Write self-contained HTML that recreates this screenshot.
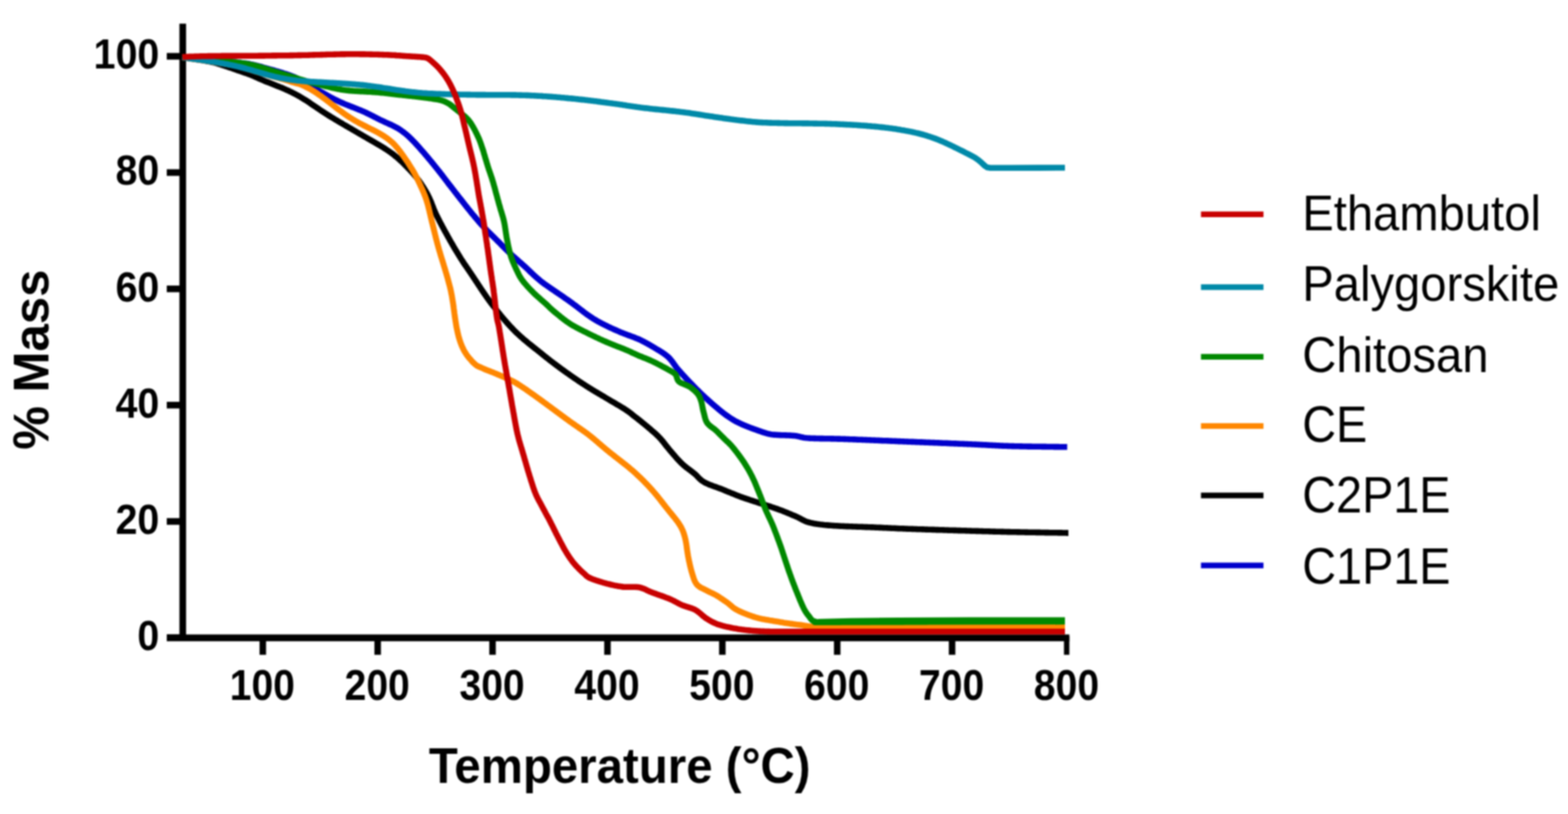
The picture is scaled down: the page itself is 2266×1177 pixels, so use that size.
<!DOCTYPE html>
<html lang="en"><head><meta charset="utf-8"><title>TGA % Mass vs Temperature</title>
<style>
html,body{margin:0;padding:0;background:#fff;}
body{width:2266px;height:1177px;overflow:hidden;}
svg{display:block;filter:blur(1.1px);}
text{font-family:"Liberation Sans",Arial,Helvetica,sans-serif;fill:#000;}
.tick{font-weight:bold;font-size:62px;}
.title{font-weight:bold;font-size:72.6px;}
.leg{font-size:73px;}
.c{fill:none;stroke-linejoin:round;stroke-linecap:butt;}
</style></head><body>
<svg width="2266" height="1177" viewBox="0 0 2266 1177">
<rect x="0" y="0" width="2266" height="1177" fill="#ffffff"/>
<g fill="#000">
<rect x="259.3" y="34.2" width="9.6" height="892.7"/>
<rect x="241" y="917.4" width="1304.4" height="9.8"/>
<rect x="241" y="917.3" width="20" height="9.6"/>
<rect x="241" y="749.2" width="20" height="9.6"/>
<rect x="241" y="581.0" width="20" height="9.6"/>
<rect x="241" y="412.9" width="20" height="9.6"/>
<rect x="241" y="244.7" width="20" height="9.6"/>
<rect x="241" y="76.6" width="20" height="9.6"/>
<rect x="375.1" y="920" width="9.4" height="26.8"/>
<rect x="541.1" y="920" width="9.4" height="26.8"/>
<rect x="707.1" y="920" width="9.4" height="26.8"/>
<rect x="873.2" y="920" width="9.4" height="26.8"/>
<rect x="1039.2" y="920" width="9.4" height="26.8"/>
<rect x="1205.2" y="920" width="9.4" height="26.8"/>
<rect x="1371.2" y="920" width="9.4" height="26.8"/>
<rect x="1537.6" y="920" width="7.8" height="26.8"/>
</g>
<path class="c" d="M263.5,82.8L264.6,82.9L265.8,83.0L267.3,83.2L268.9,83.4L270.7,83.5L272.6,83.7L274.5,83.9L276.6,84.2L278.8,84.4L281.0,84.6L283.2,84.8L285.5,85.1L287.7,85.3L289.9,85.5L292.1,85.7L294.2,85.9L296.2,86.1L298.2,86.3L300.0,86.5L302.1,86.7L304.1,86.9L306.0,87.0L307.9,87.2L309.8,87.3L311.7,87.5L313.5,87.6L315.3,87.8L317.2,87.9L319.0,88.0L320.8,88.2L322.6,88.3L324.4,88.5L326.2,88.6L328.1,88.8L330.0,89.0L331.9,89.2L333.8,89.4L335.8,89.6L337.7,89.7L339.6,89.9L341.6,90.1L343.5,90.3L345.5,90.5L347.4,90.7L349.4,91.0L351.3,91.2L353.3,91.5L355.2,91.7L357.1,92.0L359.1,92.3L361.0,92.7L362.9,93.1L364.9,93.5L366.9,93.9L368.9,94.4L370.9,94.9L373.0,95.4L375.0,96.0L377.0,96.5L378.9,97.0L380.9,97.6L382.8,98.1L384.6,98.6L386.4,99.1L388.2,99.6L389.8,100.1L391.4,100.5L393.8,101.1L395.9,101.7L397.9,102.3L399.8,102.8L401.6,103.4L403.3,103.9L404.9,104.4L406.6,104.9L408.3,105.4L410.0,106.0L411.9,106.6L413.8,107.2L415.7,107.8L417.5,108.4L419.3,109.0L421.2,109.7L423.0,110.4L424.9,111.2L426.8,112.0L428.4,112.8L430.0,113.6L431.7,114.5L433.4,115.4L435.0,116.4L436.7,117.3L438.3,118.2L439.9,119.1L441.6,120.0L443.2,121.0L444.8,121.9L446.5,122.8L448.1,123.7L449.7,124.6L451.4,125.6L453.0,126.5L454.6,127.5L456.3,128.4L458.0,129.4L459.7,130.4L461.4,131.4L463.1,132.4L464.8,133.4L466.5,134.3L468.2,135.3L470.0,136.3L471.8,137.3L473.5,138.3L475.3,139.3L477.1,140.3L479.0,141.3L480.8,142.2L482.6,143.2L484.4,144.1L486.3,145.0L488.1,145.9L490.0,146.8L491.9,147.6L493.8,148.5L495.6,149.3L497.5,150.1L499.4,150.9L501.2,151.6L503.1,152.4L505.0,153.1L506.8,153.9L508.7,154.6L510.5,155.3L512.4,156.0L514.2,156.7L516.0,157.4L517.8,158.2L519.6,158.9L521.4,159.6L523.1,160.4L524.9,161.1L526.6,161.9L528.3,162.7L530.0,163.5L531.7,164.3L533.4,165.1L535.1,166.0L536.8,166.8L538.4,167.7L540.1,168.5L541.7,169.4L543.4,170.2L545.0,171.1L546.7,171.9L548.4,172.8L550.1,173.6L551.8,174.4L553.5,175.2L555.3,176.0L557.0,176.8L558.8,177.6L560.5,178.4L562.3,179.2L564.1,180.0L565.9,180.8L567.6,181.7L569.4,182.6L571.1,183.5L572.8,184.4L574.5,185.3L576.2,186.3L577.8,187.4L579.4,188.4L581.0,189.6L582.5,190.7L584.0,191.8L585.5,193.0L587.0,194.2L588.4,195.4L589.8,196.7L591.2,198.0L592.5,199.2L593.9,200.6L595.2,201.9L596.5,203.2L597.9,204.6L599.1,205.9L600.4,207.3L601.7,208.7L603.0,210.1L604.2,211.5L605.5,212.9L606.7,214.3L607.9,215.7L609.1,217.1L610.4,218.5L611.6,219.9L612.8,221.2L613.9,222.6L615.1,224.0L616.3,225.4L617.5,226.8L618.6,228.1L619.7,229.5L620.9,230.8L622.0,232.2L623.1,233.5L624.2,234.9L625.3,236.2L626.4,237.5L627.4,238.8L628.5,240.2L629.6,241.5L630.6,242.8L631.7,244.2L632.7,245.5L633.8,246.8L634.8,248.1L635.9,249.4L636.9,250.8L638.0,252.1L639.0,253.5L640.1,254.9L641.2,256.3L642.3,257.8L643.4,259.2L644.5,260.7L645.6,262.1L646.8,263.6L647.9,265.2L649.1,266.7L650.3,268.2L651.5,269.8L652.7,271.3L653.9,272.9L655.1,274.4L656.3,276.0L657.5,277.6L658.7,279.1L660.0,280.7L661.2,282.3L662.4,283.9L663.7,285.5L664.9,287.1L666.2,288.6L667.4,290.2L668.7,291.8L669.9,293.4L671.2,295.0L672.4,296.6L673.7,298.2L675.0,299.8L676.2,301.4L677.5,303.0L678.8,304.5L680.0,306.1L681.3,307.7L682.5,309.2L683.8,310.7L685.1,312.2L686.3,313.8L687.6,315.2L688.9,316.7L690.1,318.2L691.4,319.7L692.6,321.2L693.9,322.6L695.2,324.1L696.4,325.5L697.7,326.8L698.9,328.2L700.2,329.5L701.6,330.9L702.9,332.3L704.3,333.7L705.6,335.1L707.0,336.4L708.4,337.8L709.7,339.1L711.1,340.5L712.5,341.8L713.8,343.1L715.2,344.5L716.5,345.8L717.9,347.2L719.3,348.6L720.6,349.9L722.0,351.3L723.4,352.7L724.7,354.1L726.1,355.5L727.4,356.9L728.8,358.2L730.1,359.6L731.5,360.9L732.9,362.3L734.2,363.6L735.6,364.9L737.0,366.3L738.5,367.6L739.8,368.8L741.2,370.1L742.5,371.3L743.9,372.5L745.3,373.8L746.8,375.0L748.3,376.4L749.8,377.8L751.5,379.2L753.3,380.8L754.5,381.9L755.9,383.1L757.2,384.3L758.6,385.5L760.0,386.8L761.5,388.2L763.0,389.7L764.5,391.1L766.0,392.6L767.5,394.1L769.1,395.5L770.6,397.0L772.2,398.4L773.7,399.8L775.3,401.2L776.8,402.5L778.3,403.8L779.8,405.1L781.5,406.5L783.1,407.8L784.8,409.0L786.4,410.2L788.1,411.4L789.7,412.5L791.4,413.7L793.0,414.9L794.7,416.0L796.3,417.2L798.0,418.3L799.6,419.4L801.3,420.5L802.9,421.7L804.6,422.8L806.2,423.9L807.8,425.0L809.5,426.1L811.1,427.2L812.7,428.3L814.3,429.4L815.9,430.6L817.5,431.7L819.1,432.8L820.7,433.9L822.3,435.0L823.9,436.2L825.4,437.3L827.0,438.4L828.5,439.6L830.0,440.7L831.5,441.8L833.1,443.0L834.6,444.1L836.1,445.3L837.5,446.4L839.0,447.6L840.5,448.7L842.0,449.9L843.4,451.0L844.9,452.1L846.4,453.2L847.8,454.3L849.3,455.3L850.8,456.4L852.3,457.4L853.8,458.4L855.3,459.4L856.8,460.4L858.4,461.4L860.0,462.3L861.5,463.2L863.1,464.2L864.8,465.1L866.4,466.0L868.1,466.9L869.8,467.8L871.5,468.6L873.2,469.5L874.9,470.4L876.6,471.2L878.4,472.1L880.1,472.9L881.9,473.8L883.7,474.6L885.5,475.4L887.3,476.2L889.1,477.0L890.9,477.8L892.8,478.6L894.6,479.4L896.4,480.2L898.2,480.9L900.0,481.6L901.8,482.4L903.6,483.0L905.5,483.7L907.3,484.4L909.2,485.1L911.0,485.8L912.8,486.5L914.6,487.1L916.4,487.8L918.1,488.5L919.8,489.2L921.4,489.8L923.0,490.5L924.9,491.3L926.6,492.2L928.4,493.1L930.0,493.9L931.7,494.8L933.3,495.6L934.8,496.5L936.4,497.3L937.9,498.2L939.5,499.1L941.0,500.0L942.6,500.9L944.2,501.9L945.9,502.9L947.5,503.9L949.2,504.9L951.0,505.9L952.7,507.0L954.4,508.0L956.1,509.1L957.8,510.2L959.4,511.3L961.0,512.5L962.5,513.6L964.0,514.8L965.4,516.0L966.8,517.3L968.1,518.7L969.3,520.1L970.5,521.6L971.6,523.0L972.7,524.5L973.7,526.0L974.8,527.5L975.9,529.1L977.0,530.6L978.2,532.1L979.5,533.7L980.6,535.0L981.8,536.4L983.0,537.8L984.3,539.2L985.6,540.6L986.8,542.0L988.1,543.4L989.4,544.8L990.7,546.2L992.0,547.6L993.3,549.0L994.6,550.4L995.9,551.8L997.2,553.1L998.6,554.5L999.9,555.9L1001.3,557.3L1002.6,558.7L1004.0,560.1L1005.4,561.5L1006.7,562.9L1008.1,564.2L1009.5,565.5L1010.8,566.9L1012.2,568.2L1013.5,569.5L1014.9,570.8L1016.4,572.2L1017.9,573.6L1019.3,574.9L1020.8,576.3L1022.3,577.6L1023.8,579.0L1025.2,580.3L1026.7,581.6L1028.2,582.9L1029.7,584.2L1031.1,585.4L1032.6,586.7L1034.1,588.0L1035.5,589.2L1037.0,590.4L1038.5,591.7L1039.9,592.9L1041.4,594.1L1042.9,595.3L1044.3,596.4L1045.8,597.6L1047.3,598.7L1048.7,599.8L1050.2,600.8L1051.8,601.9L1053.3,603.0L1054.8,604.0L1056.3,605.0L1057.7,605.9L1059.2,606.8L1060.8,607.8L1062.4,608.7L1064.1,609.6L1066.0,610.5L1067.9,611.5L1069.4,612.2L1071.0,613.0L1072.7,613.7L1074.5,614.5L1076.3,615.2L1078.1,616.0L1080.0,616.7L1081.9,617.5L1083.8,618.2L1085.6,618.9L1087.5,619.6L1089.3,620.3L1091.1,620.9L1092.8,621.5L1094.4,622.1L1096.3,622.8L1098.1,623.4L1099.8,624.0L1101.5,624.6L1103.1,625.2L1104.7,625.7L1106.3,626.2L1107.9,626.6L1109.7,627.1L1111.5,627.5L1113.5,627.9L1115.6,628.2L1117.3,628.4L1119.2,628.6L1121.1,628.8L1123.1,628.9L1125.1,629.0L1127.2,629.1L1129.4,629.2L1131.5,629.3L1133.7,629.3L1135.8,629.4L1138.0,629.5L1140.0,629.5L1142.0,629.6L1144.0,629.7L1145.8,629.9L1147.5,630.0L1149.7,630.3L1151.6,630.6L1153.3,630.9L1154.8,631.2L1156.3,631.6L1157.8,632.0L1159.4,632.3L1161.2,632.7L1163.3,633.0L1165.8,633.3L1168.7,633.5L1170.1,633.6L1171.6,633.7L1173.1,633.8L1174.7,633.8L1176.3,633.9L1178.0,633.9L1179.7,634.0L1181.4,634.0L1183.2,634.0L1185.1,634.1L1187.0,634.1L1188.9,634.1L1190.9,634.2L1192.9,634.2L1195.0,634.2L1197.1,634.3L1199.2,634.3L1201.4,634.4L1203.7,634.4L1206.0,634.5L1208.3,634.5L1210.7,634.6L1213.2,634.6L1215.7,634.7L1218.2,634.8L1219.8,634.9L1221.4,634.9L1223.1,635.0L1224.7,635.0L1226.4,635.1L1228.1,635.2L1229.8,635.2L1231.6,635.3L1233.3,635.4L1235.1,635.4L1236.9,635.5L1238.7,635.6L1240.5,635.7L1242.4,635.7L1244.2,635.8L1246.1,635.9L1248.0,636.0L1249.9,636.0L1251.8,636.1L1253.8,636.2L1255.8,636.3L1257.8,636.4L1259.8,636.5L1261.8,636.5L1263.8,636.6L1265.9,636.7L1268.0,636.8L1270.1,636.9L1272.2,637.0L1274.3,637.1L1276.5,637.2L1278.7,637.2L1280.8,637.3L1283.1,637.4L1285.3,637.5L1287.5,637.6L1289.8,637.7L1292.1,637.8L1294.4,637.9L1296.7,638.0L1298.4,638.1L1300.2,638.1L1302.0,638.2L1303.9,638.3L1305.8,638.4L1307.7,638.5L1309.6,638.5L1311.6,638.6L1313.5,638.7L1315.5,638.8L1317.6,638.9L1319.6,638.9L1321.7,639.0L1323.8,639.1L1325.9,639.2L1328.0,639.3L1330.2,639.4L1332.3,639.4L1334.5,639.5L1336.6,639.6L1338.8,639.7L1341.0,639.8L1343.1,639.9L1345.3,640.0L1347.5,640.0L1349.7,640.1L1351.9,640.2L1354.0,640.3L1356.2,640.4L1358.4,640.5L1360.5,640.6L1362.7,640.7L1364.8,640.8L1366.9,640.8L1369.0,640.9L1371.2,641.0L1373.2,641.1L1375.3,641.2L1377.3,641.3L1379.3,641.4L1381.3,641.4L1383.3,641.5L1385.2,641.6L1387.2,641.7L1389.1,641.8L1390.9,641.8L1392.7,641.9L1394.5,642.0L1396.3,642.0L1398.0,642.1L1399.7,642.2L1401.3,642.3L1402.9,642.3L1404.5,642.4L1407.2,642.5L1409.8,642.6L1412.2,642.8L1414.6,642.9L1416.8,643.0L1419.0,643.1L1421.1,643.2L1423.0,643.3L1425.0,643.4L1426.8,643.5L1428.6,643.6L1430.4,643.7L1432.1,643.8L1433.8,643.9L1435.4,644.0L1437.1,644.0L1438.7,644.1L1440.3,644.2L1442.0,644.3L1443.6,644.4L1445.3,644.5L1447.0,644.5L1448.8,644.6L1450.6,644.7L1452.4,644.8L1454.3,644.8L1456.3,644.9L1458.4,645.0L1460.5,645.0L1462.8,645.1L1464.6,645.1L1466.4,645.2L1468.3,645.2L1470.2,645.3L1472.3,645.3L1474.3,645.4L1476.5,645.4L1478.6,645.5L1480.8,645.5L1483.0,645.5L1485.3,645.6L1487.6,645.6L1489.9,645.6L1492.2,645.7L1494.5,645.7L1496.9,645.8L1499.2,645.8L1501.6,645.8L1503.9,645.8L1506.2,645.9L1508.5,645.9L1510.8,645.9L1513.0,646.0L1515.2,646.0L1517.4,646.0L1519.5,646.0L1521.6,646.0L1523.6,646.1L1525.6,646.1L1527.5,646.1L1529.4,646.1L1531.2,646.2L1532.8,646.2L1534.5,646.2L1536.0,646.2L1537.5,646.2L1538.8,646.2L1540.1,646.3L1541.2,646.3L1542.3,646.3" stroke="#0000cc" stroke-width="8.6"/>
<path class="c" d="M263.5,82.8L264.6,83.0L265.9,83.2L267.4,83.4L269.1,83.7L271.0,83.9L273.0,84.2L275.1,84.5L277.3,84.9L279.6,85.2L281.8,85.6L284.1,85.9L286.4,86.3L288.7,86.6L290.9,87.0L293.0,87.3L294.9,87.6L296.8,87.9L298.5,88.2L300.0,88.5L302.6,89.0L304.6,89.4L306.3,89.7L307.6,90.0L308.9,90.3L310.4,90.7L312.0,91.2L314.2,91.8L316.9,92.7L318.3,93.1L319.8,93.6L321.4,94.1L323.1,94.7L324.8,95.3L326.7,95.9L328.6,96.5L330.5,97.2L332.5,97.9L334.5,98.5L336.6,99.2L338.6,100.0L340.7,100.7L342.7,101.4L344.7,102.1L346.7,102.8L348.7,103.5L350.6,104.1L352.5,104.8L354.3,105.4L356.0,106.0L358.1,106.7L360.1,107.5L362.1,108.2L364.1,109.0L366.0,109.8L367.9,110.7L369.8,111.5L371.6,112.3L373.5,113.2L375.3,114.0L377.2,114.8L379.0,115.6L380.9,116.4L382.7,117.2L384.5,117.9L386.4,118.6L388.2,119.3L390.0,120.0L391.9,120.8L393.7,121.5L395.5,122.2L397.3,122.9L399.1,123.7L400.9,124.4L402.8,125.1L404.6,125.9L406.4,126.6L408.1,127.3L409.9,128.1L411.7,128.9L413.4,129.7L415.2,130.4L416.9,131.2L418.7,132.1L420.4,132.9L422.1,133.7L423.8,134.6L425.5,135.4L427.1,136.3L428.8,137.2L430.4,138.1L432.1,139.0L433.6,139.9L435.2,140.9L436.8,141.8L438.4,142.8L439.9,143.8L441.5,144.7L443.0,145.7L444.6,146.7L446.1,147.7L447.6,148.7L449.1,149.8L450.6,150.8L452.1,151.8L453.6,152.8L455.1,153.8L456.6,154.9L458.1,155.9L459.6,156.9L461.1,157.9L462.6,159.0L464.1,160.0L465.7,161.0L467.2,162.0L468.8,163.0L470.3,164.0L471.9,165.0L473.4,166.0L475.0,167.0L476.6,168.0L478.2,169.0L479.8,169.9L481.4,170.9L483.0,171.9L484.6,172.9L486.2,173.8L487.9,174.8L489.5,175.8L491.1,176.7L492.8,177.7L494.4,178.6L496.0,179.6L497.7,180.6L499.3,181.5L500.9,182.5L502.6,183.4L504.2,184.4L505.8,185.3L507.5,186.3L509.1,187.2L510.8,188.2L512.4,189.2L514.0,190.1L515.7,191.1L517.3,192.0L519.0,193.0L520.6,193.9L522.2,194.9L523.9,195.8L525.5,196.8L527.2,197.8L528.9,198.7L530.5,199.7L532.2,200.6L533.8,201.6L535.5,202.5L537.1,203.5L538.8,204.4L540.4,205.4L542.1,206.3L543.7,207.3L545.3,208.2L547.0,209.2L548.6,210.1L550.2,211.1L551.8,212.1L553.4,213.0L554.9,214.0L556.5,215.0L558.0,216.0L559.5,217.0L561.0,218.0L562.5,219.0L564.0,220.1L565.4,221.1L566.8,222.2L568.3,223.2L569.7,224.3L571.0,225.5L572.4,226.6L573.8,227.7L575.1,228.9L576.5,230.1L577.8,231.3L579.1,232.5L580.4,233.7L581.7,234.9L583.0,236.2L584.3,237.5L585.5,238.8L586.8,240.1L588.1,241.3L589.4,242.7L590.6,244.0L591.9,245.3L593.1,246.7L594.4,248.0L595.7,249.4L596.9,250.8L598.2,252.3L599.4,253.8L600.7,255.3L602.0,256.9L603.2,258.4L604.5,260.1L605.7,261.7L606.9,263.4L608.0,265.1L609.2,266.8L610.3,268.5L611.4,270.2L612.5,271.9L613.5,273.6L614.5,275.2L615.5,276.9L616.5,278.6L617.4,280.3L618.3,282.0L619.2,283.8L620.0,285.4L620.8,287.1L621.5,288.8L622.3,290.5L623.1,292.3L623.7,293.9L624.2,295.3L624.8,296.8L625.5,298.6L626.2,300.4L626.9,302.3L627.7,304.3L628.6,306.3L629.5,308.3L630.2,309.9L631.0,311.5L631.8,313.1L632.7,314.8L633.6,316.6L634.5,318.3L635.4,320.1L636.4,322.0L637.4,323.8L638.3,325.7L639.3,327.5L640.3,329.4L641.3,331.2L642.3,333.1L643.3,334.9L644.3,336.7L645.3,338.5L646.3,340.2L647.2,341.9L648.2,343.7L649.2,345.4L650.1,347.2L651.1,348.9L652.1,350.6L653.1,352.3L654.1,354.0L655.1,355.7L656.0,357.4L657.0,359.1L658.0,360.7L659.0,362.4L660.0,364.0L661.0,365.6L662.0,367.2L662.9,368.8L663.9,370.4L664.9,372.0L666.0,373.8L667.1,375.5L668.2,377.2L669.3,378.9L670.4,380.6L671.5,382.2L672.6,383.8L673.8,385.5L674.9,387.1L676.0,388.7L677.1,390.3L678.2,392.0L679.3,393.6L680.4,395.2L681.5,396.9L682.6,398.5L683.7,400.2L684.8,401.8L685.9,403.5L687.0,405.2L688.1,406.8L689.2,408.5L690.3,410.2L691.4,411.9L692.5,413.5L693.6,415.2L694.7,416.9L695.8,418.5L696.9,420.1L698.0,421.8L699.1,423.4L700.2,425.0L701.3,426.6L702.5,428.3L703.6,430.0L704.8,431.6L706.0,433.3L707.2,434.9L708.3,436.5L709.4,438.0L710.6,439.5L711.7,440.9L712.8,442.4L714.0,443.8L715.1,445.3L716.2,446.8L717.4,448.2L718.5,449.6L719.7,451.1L720.8,452.5L722.0,453.9L723.1,455.4L724.3,456.8L725.5,458.2L726.7,459.6L727.9,461.1L729.1,462.5L730.3,463.9L731.6,465.4L732.8,466.8L734.1,468.2L735.4,469.6L736.7,471.1L738.0,472.5L739.4,473.9L740.7,475.4L742.1,476.8L743.5,478.2L744.9,479.6L746.3,481.0L747.8,482.4L749.2,483.7L750.7,485.1L752.2,486.4L753.7,487.7L755.2,489.1L756.7,490.4L758.2,491.7L759.7,492.9L761.3,494.2L762.8,495.5L764.4,496.8L765.9,498.0L767.5,499.2L769.0,500.5L770.6,501.7L772.1,503.0L773.7,504.2L775.2,505.4L776.8,506.6L778.3,507.8L779.8,509.0L781.2,510.2L782.7,511.4L784.2,512.6L785.7,513.8L787.2,515.0L788.6,516.2L790.1,517.3L791.6,518.5L793.1,519.7L794.5,520.8L796.0,522.0L797.5,523.1L799.1,524.3L800.6,525.5L802.2,526.6L803.7,527.8L805.3,529.0L806.9,530.1L808.4,531.3L810.0,532.5L811.5,533.6L813.1,534.7L814.6,535.9L816.2,537.0L817.8,538.1L819.3,539.2L820.9,540.3L822.4,541.4L824.0,542.5L825.7,543.7L827.3,544.8L829.0,546.0L830.6,547.1L832.3,548.2L833.9,549.3L835.6,550.5L837.2,551.6L838.9,552.7L840.6,553.8L842.2,554.9L843.9,555.9L845.5,557.0L847.2,558.1L848.8,559.1L850.5,560.2L852.2,561.2L853.8,562.3L855.5,563.3L857.1,564.3L858.8,565.3L860.4,566.3L862.1,567.3L863.8,568.3L865.4,569.2L867.1,570.2L868.7,571.2L870.4,572.2L872.0,573.1L873.7,574.1L875.3,575.1L877.0,576.1L878.7,577.1L880.4,578.1L882.1,579.2L883.9,580.2L885.7,581.2L887.5,582.3L889.3,583.3L891.0,584.4L892.8,585.4L894.5,586.4L896.1,587.4L897.7,588.4L899.3,589.4L900.8,590.3L902.2,591.1L903.5,592.0L905.6,593.4L907.4,594.6L909.0,595.8L910.5,596.9L911.8,597.9L913.2,599.0L914.5,600.1L916.0,601.3L917.7,602.6L919.0,603.6L920.4,604.7L921.9,605.9L923.3,607.0L924.8,608.2L926.3,609.4L927.8,610.6L929.3,611.8L930.8,613.0L932.3,614.3L933.8,615.5L935.3,616.8L936.8,618.1L938.3,619.3L939.8,620.6L941.3,621.9L942.8,623.2L944.3,624.5L945.8,625.8L947.3,627.1L948.8,628.5L950.2,629.9L951.6,631.3L953.0,632.7L954.4,634.1L955.6,635.6L956.9,637.1L958.2,638.6L959.4,640.2L960.6,641.7L961.8,643.3L963.0,644.9L964.3,646.4L965.6,648.0L966.9,649.6L968.2,651.2L969.4,652.6L970.6,654.0L971.8,655.4L973.0,656.9L974.3,658.3L975.6,659.8L976.8,661.2L978.1,662.7L979.4,664.1L980.7,665.5L982.0,666.9L983.3,668.2L984.5,669.5L985.8,670.7L987.3,672.1L988.8,673.4L990.3,674.6L991.8,675.9L993.4,677.0L994.9,678.2L996.4,679.3L997.9,680.4L999.3,681.5L1000.8,682.6L1002.1,683.7L1003.5,684.8L1005.0,686.1L1006.4,687.4L1007.6,688.7L1008.8,690.0L1010.0,691.2L1011.3,692.5L1012.6,693.7L1014.1,694.9L1015.8,696.0L1017.7,697.2L1019.1,698.0L1020.6,698.7L1022.2,699.4L1023.9,700.2L1025.6,700.9L1027.4,701.6L1029.2,702.3L1031.1,703.0L1033.0,703.6L1034.9,704.3L1036.8,705.0L1038.7,705.7L1040.6,706.4L1042.4,707.1L1044.2,707.8L1046.0,708.5L1047.7,709.2L1049.5,710.0L1051.3,710.7L1053.0,711.4L1054.8,712.1L1056.6,712.9L1058.3,713.6L1060.1,714.3L1061.9,715.0L1063.6,715.7L1065.4,716.4L1067.2,717.1L1068.9,717.7L1070.7,718.4L1072.6,719.1L1074.5,719.8L1076.4,720.4L1078.3,721.1L1080.2,721.7L1082.1,722.3L1084.0,723.0L1085.8,723.6L1087.7,724.2L1089.6,724.8L1091.5,725.4L1093.4,726.0L1095.3,726.7L1097.2,727.3L1099.1,727.9L1101.0,728.5L1102.9,729.2L1104.8,729.8L1106.7,730.4L1108.6,731.0L1110.5,731.6L1112.3,732.2L1114.2,732.8L1116.1,733.5L1118.0,734.1L1119.9,734.8L1121.8,735.4L1123.7,736.1L1125.5,736.8L1127.3,737.4L1129.1,738.1L1131.0,738.8L1132.8,739.6L1134.6,740.3L1136.5,741.0L1138.3,741.8L1140.1,742.5L1141.9,743.2L1143.6,744.0L1145.3,744.7L1147.0,745.4L1148.6,746.0L1150.2,746.7L1152.2,747.6L1154.0,748.5L1155.6,749.4L1157.2,750.2L1158.7,751.1L1160.3,751.9L1161.9,752.7L1163.5,753.5L1165.4,754.2L1167.4,754.9L1169.7,755.5L1171.3,755.9L1172.8,756.2L1174.4,756.6L1176.0,756.9L1177.7,757.2L1179.4,757.5L1181.1,757.8L1182.9,758.0L1184.8,758.3L1186.8,758.5L1188.8,758.7L1190.9,759.0L1193.2,759.2L1195.5,759.4L1198.0,759.6L1200.6,759.8L1203.3,760.0L1204.9,760.1L1206.5,760.2L1208.2,760.3L1209.9,760.4L1211.7,760.5L1213.6,760.6L1215.5,760.7L1217.4,760.8L1219.3,760.9L1221.3,761.0L1223.4,761.1L1225.4,761.1L1227.5,761.2L1229.6,761.3L1231.7,761.4L1233.8,761.5L1236.0,761.5L1238.1,761.6L1240.3,761.7L1242.4,761.8L1244.6,761.8L1246.7,761.9L1248.8,762.0L1250.9,762.1L1253.0,762.1L1255.1,762.2L1257.2,762.3L1259.2,762.4L1261.2,762.4L1263.2,762.5L1265.1,762.6L1267.1,762.7L1269.0,762.8L1270.8,762.9L1272.6,762.9L1274.3,763.0L1276.0,763.1L1277.7,763.2L1279.2,763.2L1280.8,763.3L1282.4,763.4L1284.0,763.5L1285.5,763.5L1287.1,763.6L1288.7,763.7L1290.4,763.8L1292.1,763.8L1293.8,763.9L1295.6,764.0L1297.4,764.1L1299.4,764.2L1301.4,764.2L1303.5,764.3L1305.7,764.4L1308.1,764.5L1310.5,764.6L1313.1,764.7L1315.8,764.8L1318.7,764.9L1321.7,765.0L1323.2,765.0L1324.7,765.1L1326.2,765.2L1327.8,765.2L1329.5,765.3L1331.1,765.3L1332.8,765.4L1334.5,765.4L1336.3,765.5L1338.1,765.6L1339.9,765.6L1341.8,765.7L1343.6,765.7L1345.5,765.8L1347.5,765.9L1349.4,765.9L1351.4,766.0L1353.4,766.1L1355.4,766.1L1357.4,766.2L1359.5,766.3L1361.5,766.3L1363.6,766.4L1365.7,766.5L1367.8,766.5L1370.0,766.6L1372.1,766.7L1374.3,766.7L1376.4,766.8L1378.6,766.9L1380.8,766.9L1382.9,767.0L1385.1,767.1L1387.3,767.1L1389.5,767.2L1391.7,767.3L1393.9,767.3L1396.0,767.4L1398.2,767.5L1400.4,767.5L1402.6,767.6L1404.8,767.7L1406.9,767.7L1409.1,767.8L1411.2,767.9L1413.3,767.9L1415.5,768.0L1417.6,768.0L1419.7,768.1L1421.8,768.2L1423.8,768.2L1425.9,768.3L1427.9,768.3L1429.9,768.4L1431.9,768.5L1433.8,768.5L1435.8,768.6L1437.7,768.6L1439.6,768.7L1441.5,768.7L1443.3,768.8L1445.1,768.8L1447.3,768.9L1449.6,768.9L1451.8,769.0L1454.1,769.0L1456.4,769.1L1458.7,769.1L1461.0,769.2L1463.4,769.2L1465.7,769.3L1468.0,769.3L1470.4,769.4L1472.7,769.4L1475.0,769.5L1477.4,769.5L1479.7,769.5L1482.0,769.6L1484.3,769.6L1486.6,769.7L1488.9,769.7L1491.2,769.8L1493.4,769.8L1495.7,769.8L1497.9,769.9L1500.1,769.9L1502.3,769.9L1504.4,770.0L1506.5,770.0L1508.6,770.0L1510.7,770.1L1512.7,770.1L1514.7,770.1L1516.7,770.2L1518.6,770.2L1520.5,770.2L1522.4,770.3L1524.2,770.3L1525.9,770.3L1527.7,770.3L1529.3,770.4L1530.9,770.4L1532.5,770.4L1534.0,770.4L1535.5,770.5L1536.9,770.5L1538.2,770.5L1539.5,770.5L1540.7,770.5L1541.9,770.6L1543.0,770.6L1544.0,770.6" stroke="#000000" stroke-width="8.6"/>
<path class="c" d="M263.5,82.8L264.6,83.0L265.9,83.1L267.4,83.3L269.1,83.6L270.9,83.8L272.9,84.1L274.9,84.4L277.1,84.7L279.3,85.0L281.6,85.3L283.9,85.7L286.1,86.0L288.4,86.3L290.6,86.6L292.7,86.9L294.7,87.2L296.6,87.5L298.4,87.8L300.0,88.0L302.5,88.4L304.7,88.7L306.7,89.1L308.6,89.4L310.4,89.7L312.1,90.0L313.7,90.2L315.3,90.5L317.0,90.8L318.8,91.2L320.7,91.5L322.5,91.8L324.3,92.1L326.1,92.4L327.8,92.6L329.6,92.9L331.4,93.2L333.3,93.5L335.2,93.9L337.1,94.2L339.1,94.6L341.2,95.1L343.4,95.6L345.1,96.0L346.9,96.5L348.9,97.0L350.8,97.6L352.9,98.2L354.9,98.8L357.0,99.4L359.1,100.0L361.2,100.7L363.2,101.3L365.2,101.9L367.1,102.5L368.9,103.1L370.6,103.6L372.2,104.1L373.7,104.5L376.2,105.2L378.1,105.8L379.8,106.3L381.2,106.7L382.6,107.1L384.0,107.6L385.6,108.0L387.6,108.6L389.1,109.0L390.8,109.5L392.6,110.0L394.4,110.5L396.3,111.0L398.2,111.5L400.1,112.0L402.0,112.5L403.9,113.0L405.7,113.5L407.4,114.0L409.0,114.5L411.0,115.1L412.9,115.6L414.6,116.2L416.3,116.7L417.9,117.2L419.6,117.8L421.3,118.3L423.1,118.9L425.0,119.5L426.6,120.0L428.2,120.4L429.9,120.8L431.5,121.2L433.2,121.7L435.0,122.3L436.8,123.0L438.5,123.8L440.2,124.6L441.8,125.5L443.5,126.3L445.2,127.1L446.9,128.0L448.5,128.9L450.1,129.9L451.7,130.9L453.4,131.8L455.0,132.9L456.6,133.9L458.2,135.0L459.8,136.1L461.3,137.2L462.9,138.3L464.5,139.4L466.0,140.6L467.6,141.7L469.1,142.8L470.7,144.0L472.2,145.1L473.7,146.3L475.2,147.5L476.7,148.6L478.2,149.8L479.7,151.0L481.2,152.2L482.8,153.4L484.3,154.6L485.8,155.8L487.4,157.0L489.0,158.2L490.6,159.4L492.2,160.6L493.9,161.8L495.5,163.0L497.2,164.2L498.9,165.4L500.6,166.6L502.4,167.8L504.1,168.9L505.9,170.1L507.7,171.2L509.5,172.3L511.3,173.4L513.1,174.5L515.0,175.6L516.8,176.6L518.7,177.7L520.5,178.7L522.4,179.6L524.2,180.6L526.1,181.5L527.9,182.4L529.8,183.4L531.6,184.3L533.4,185.2L535.2,186.1L537.0,186.9L538.8,187.8L540.6,188.7L542.3,189.6L544.1,190.6L545.9,191.5L547.6,192.5L549.3,193.5L551.0,194.5L552.7,195.5L554.4,196.5L556.0,197.6L557.6,198.6L559.1,199.7L560.6,200.9L562.1,202.0L563.6,203.2L565.0,204.4L566.3,205.6L567.7,206.8L569.0,208.1L570.2,209.4L571.4,210.7L572.6,212.1L573.8,213.4L574.9,214.8L576.0,216.2L577.1,217.5L578.1,218.9L579.2,220.3L580.2,221.8L581.2,223.2L582.2,224.6L583.2,226.0L584.2,227.4L585.2,228.9L586.2,230.3L587.2,231.8L588.2,233.2L589.2,234.7L590.2,236.2L591.1,237.7L592.1,239.3L593.1,240.8L594.0,242.4L595.0,243.9L596.0,245.5L596.9,247.1L597.9,248.7L598.8,250.3L599.7,252.0L600.6,253.8L601.5,255.5L602.4,257.3L603.3,259.0L604.1,260.8L605.0,262.6L605.8,264.4L606.7,266.2L607.5,268.0L608.3,269.8L609.1,271.5L609.9,273.2L610.7,274.9L611.4,276.7L612.2,278.4L612.9,280.2L613.6,282.0L614.4,283.9L615.1,285.8L615.8,287.9L616.5,290.0L617.0,291.7L617.5,293.4L618.0,295.1L618.5,297.0L619.0,298.8L619.4,300.7L619.9,302.6L620.4,304.5L620.8,306.5L621.3,308.5L621.8,310.5L622.2,312.5L622.7,314.5L623.2,316.6L623.7,318.6L624.2,320.7L624.6,322.4L625.1,324.2L625.5,326.0L626.0,327.8L626.4,329.7L626.9,331.5L627.3,333.4L627.8,335.2L628.2,337.1L628.7,339.0L629.2,340.9L629.6,342.8L630.1,344.7L630.6,346.6L631.1,348.5L631.6,350.4L632.1,352.3L632.6,354.1L633.1,356.0L633.6,357.9L634.2,359.8L634.7,361.7L635.3,363.6L635.9,365.5L636.4,367.5L637.0,369.4L637.6,371.4L638.2,373.3L638.8,375.2L639.4,377.1L640.0,379.0L640.5,380.9L641.1,382.7L641.6,384.5L642.2,386.4L642.8,388.3L643.3,390.1L643.9,392.0L644.4,393.9L645.0,395.7L645.5,397.6L646.1,399.5L646.6,401.3L647.1,403.2L647.6,405.1L648.1,406.9L648.6,408.8L649.1,410.6L649.6,412.5L650.1,414.3L650.5,416.2L651.0,418.0L651.4,419.9L651.8,421.7L652.1,423.5L652.5,425.4L652.9,427.2L653.2,429.1L653.5,430.9L653.8,432.7L654.1,434.6L654.4,436.4L654.7,438.3L655.0,440.2L655.2,442.0L655.5,443.9L655.7,445.8L656.0,447.7L656.2,449.6L656.5,451.4L656.7,453.3L657.0,455.2L657.2,457.1L657.5,459.0L657.8,460.9L658.1,462.9L658.4,464.8L658.7,466.7L659.0,468.6L659.3,470.5L659.6,472.4L660.0,474.3L660.4,476.1L660.8,478.0L661.2,479.9L661.6,481.8L662.1,483.6L662.5,485.5L663.0,487.4L663.5,489.2L664.1,491.0L664.7,492.8L665.3,494.6L665.9,496.3L666.6,498.1L667.3,499.8L668.0,501.5L668.8,503.2L669.6,504.9L670.4,506.5L671.3,508.1L672.3,509.6L673.2,511.2L674.2,512.7L675.3,514.2L676.4,515.7L677.5,517.1L678.7,518.5L680.0,519.8L681.1,521.2L682.3,522.6L683.6,524.0L684.9,525.2L686.3,526.5L687.8,527.7L689.3,528.8L691.1,529.7L692.9,530.5L694.8,531.3L696.6,532.1L698.4,532.9L700.2,533.7L701.9,534.5L703.6,535.1L705.2,535.8L706.9,536.4L708.5,537.0L710.2,537.7L711.9,538.3L713.8,539.1L715.8,539.9L717.9,540.8L719.4,541.5L721.0,542.1L722.6,542.8L724.3,543.6L726.1,544.3L727.9,545.1L729.7,545.9L731.5,546.7L733.4,547.5L735.2,548.4L737.1,549.3L739.0,550.2L740.8,551.1L742.6,552.1L744.4,553.1L746.1,554.0L747.7,555.0L749.4,556.1L751.0,557.1L752.7,558.2L754.3,559.3L756.0,560.4L757.6,561.5L759.3,562.6L761.0,563.8L762.6,565.0L764.3,566.1L765.9,567.3L767.6,568.5L769.2,569.6L770.9,570.8L772.5,571.9L774.0,573.0L775.6,574.1L777.1,575.2L778.7,576.4L780.3,577.5L781.9,578.7L783.4,579.8L785.0,581.0L786.5,582.1L788.1,583.3L789.7,584.4L791.2,585.6L792.8,586.8L794.4,587.9L795.9,589.0L797.5,590.2L799.1,591.4L800.6,592.5L802.2,593.6L803.7,594.8L805.3,596.0L806.9,597.1L808.4,598.3L810.0,599.4L811.5,600.6L813.1,601.7L814.6,602.9L816.2,604.0L817.8,605.2L819.3,606.3L820.9,607.4L822.4,608.6L824.0,609.7L825.5,610.8L827.1,611.9L828.6,613.0L830.2,614.0L831.7,615.1L833.2,616.2L834.8,617.2L836.3,618.3L837.8,619.3L839.4,620.4L840.9,621.5L842.5,622.6L844.1,623.7L845.7,624.9L847.2,626.0L848.9,627.2L850.5,628.5L851.9,629.6L853.3,630.7L854.7,631.8L856.1,633.0L857.5,634.1L858.9,635.3L860.3,636.5L861.7,637.7L863.2,638.9L864.6,640.2L866.0,641.4L867.5,642.6L869.0,643.9L870.5,645.2L872.0,646.5L873.5,647.8L875.0,649.1L876.6,650.4L878.2,651.7L879.8,653.0L881.2,654.2L882.7,655.3L884.2,656.5L885.7,657.7L887.2,658.9L888.8,660.2L890.4,661.4L892.0,662.6L893.6,663.9L895.2,665.1L896.8,666.4L898.4,667.7L900.0,668.9L901.6,670.2L903.2,671.4L904.8,672.7L906.4,674.0L907.9,675.2L909.4,676.4L910.9,677.7L912.3,678.9L913.7,680.1L915.1,681.3L916.7,682.7L918.3,684.2L919.8,685.6L921.3,687.0L922.8,688.4L924.3,689.7L925.7,691.1L927.1,692.5L928.5,693.9L929.9,695.2L931.2,696.6L932.5,698.0L933.9,699.4L935.2,700.7L936.5,702.1L937.8,703.5L939.1,704.9L940.4,706.4L941.7,707.8L943.0,709.2L944.3,710.7L945.6,712.2L946.9,713.7L948.1,715.3L949.4,716.8L950.6,718.3L951.9,719.9L953.1,721.4L954.3,722.9L955.5,724.5L956.7,726.0L957.9,727.5L959.0,729.0L960.2,730.5L961.3,731.9L962.4,733.3L963.5,734.7L964.6,736.1L966.0,737.8L967.3,739.5L968.6,741.1L970.0,742.7L971.3,744.3L972.5,745.9L973.8,747.4L975.0,748.9L976.2,750.4L977.3,751.9L978.4,753.3L979.5,754.8L980.5,756.2L981.4,757.6L982.3,759.0L983.4,760.8L984.4,762.5L985.2,764.2L986.0,765.8L986.7,767.3L987.3,768.9L987.9,770.5L988.4,772.1L988.9,773.9L989.5,775.7L990.0,777.7L990.4,779.4L990.8,781.1L991.1,782.9L991.5,784.8L991.8,786.7L992.1,788.7L992.4,790.7L992.6,792.7L992.9,794.7L993.2,796.7L993.5,798.6L993.8,800.5L994.1,802.4L994.4,804.2L994.8,806.3L995.2,808.3L995.6,810.3L996.0,812.3L996.5,814.3L996.9,816.3L997.3,818.2L997.8,820.1L998.2,821.9L998.7,823.7L999.2,825.5L999.7,827.2L1000.3,829.2L1000.9,831.2L1001.5,833.1L1002.1,835.0L1002.7,836.9L1003.4,838.6L1004.1,840.3L1004.9,841.9L1005.8,843.4L1006.8,844.8L1008.1,846.2L1009.5,847.4L1011.0,848.5L1012.6,849.5L1014.2,850.4L1015.9,851.2L1017.6,852.0L1019.3,852.8L1020.9,853.7L1022.7,854.6L1024.4,855.5L1026.1,856.3L1027.9,857.1L1029.7,858.0L1031.4,858.8L1033.2,859.8L1035.1,860.8L1036.6,861.7L1038.2,862.7L1039.8,863.7L1041.4,864.8L1043.1,865.9L1044.7,867.0L1046.3,868.1L1047.9,869.2L1049.5,870.3L1051.0,871.4L1052.6,872.6L1054.0,873.8L1055.4,874.9L1056.7,876.1L1058.1,877.3L1059.5,878.5L1061.2,879.6L1063.0,880.8L1065.1,882.0L1066.5,882.7L1068.0,883.5L1069.6,884.2L1071.3,885.0L1073.0,885.7L1074.8,886.5L1076.7,887.2L1078.6,888.0L1080.5,888.7L1082.4,889.5L1084.3,890.1L1086.2,890.8L1088.1,891.5L1089.9,892.0L1091.7,892.6L1093.6,893.1L1095.4,893.6L1097.2,894.1L1099.0,894.5L1100.8,894.9L1102.6,895.2L1104.4,895.6L1106.2,895.9L1108.1,896.2L1110.0,896.5L1111.9,896.9L1114.0,897.2L1116.0,897.5L1118.2,897.9L1119.9,898.2L1121.7,898.5L1123.4,898.8L1125.2,899.1L1127.1,899.4L1128.9,899.7L1130.8,900.0L1132.7,900.4L1134.6,900.7L1136.6,901.0L1138.5,901.3L1140.6,901.6L1142.6,901.9L1144.7,902.1L1146.9,902.4L1149.0,902.7L1151.2,903.0L1153.5,903.2L1155.1,903.4L1156.5,903.6L1157.7,903.8L1158.8,903.9L1159.8,904.1L1160.7,904.3L1161.6,904.5L1162.5,904.6L1163.4,904.8L1164.3,905.0L1165.3,905.1L1166.5,905.3L1167.7,905.5L1169.2,905.6L1170.8,905.7L1172.7,905.9L1174.9,906.0L1177.3,906.1L1180.1,906.2L1183.2,906.4L1186.8,906.5L1190.7,906.5L1195.1,906.6L1200.0,906.7L1201.2,906.7L1202.5,906.7L1203.8,906.8L1205.2,906.8L1206.5,906.8L1208.0,906.8L1209.4,906.8L1210.9,906.8L1212.4,906.8L1213.9,906.8L1215.5,906.8L1217.1,906.9L1218.7,906.9L1220.3,906.9L1222.0,906.9L1223.7,906.9L1225.5,906.9L1227.2,906.9L1229.0,906.9L1230.8,906.9L1232.6,906.9L1234.5,906.9L1236.3,906.9L1238.2,906.9L1240.2,906.9L1242.1,906.9L1244.0,906.9L1246.0,906.9L1248.0,906.9L1250.0,906.9L1252.1,906.9L1254.1,906.9L1256.2,906.9L1258.2,906.9L1260.3,906.9L1262.5,906.9L1264.6,906.9L1266.7,906.9L1268.8,906.9L1271.0,906.9L1273.2,906.9L1275.4,906.9L1277.5,906.9L1279.8,906.9L1282.0,906.9L1284.2,906.9L1286.4,906.9L1288.6,906.9L1290.9,906.9L1293.1,906.9L1295.3,906.9L1297.6,906.8L1299.8,906.8L1302.1,906.8L1304.4,906.8L1306.6,906.8L1308.9,906.8L1311.1,906.8L1313.4,906.8L1315.7,906.8L1317.9,906.8L1320.2,906.8L1322.4,906.8L1324.7,906.8L1326.9,906.7L1329.2,906.7L1331.4,906.7L1333.7,906.7L1335.9,906.7L1338.1,906.7L1340.3,906.7L1342.5,906.7L1344.7,906.7L1346.9,906.7L1349.1,906.7L1351.2,906.7L1353.4,906.6L1355.5,906.6L1357.7,906.6L1359.8,906.6L1361.9,906.6L1364.0,906.6L1366.0,906.6L1368.1,906.6L1370.1,906.6L1372.1,906.6L1374.1,906.6L1376.1,906.6L1378.1,906.6L1380.0,906.5L1382.0,906.5L1383.9,906.5L1385.8,906.5L1387.6,906.5L1389.5,906.5L1391.3,906.5L1393.1,906.5L1394.8,906.5L1396.6,906.5L1398.3,906.5L1400.0,906.5L1402.4,906.5L1404.8,906.5L1407.3,906.5L1409.7,906.5L1412.1,906.5L1414.6,906.5L1417.0,906.5L1419.4,906.5L1421.8,906.5L1424.3,906.4L1426.7,906.4L1429.1,906.4L1431.5,906.4L1433.9,906.4L1436.3,906.4L1438.7,906.4L1441.1,906.4L1443.5,906.4L1445.8,906.4L1448.2,906.4L1450.6,906.4L1452.9,906.4L1455.2,906.3L1457.5,906.3L1459.8,906.3L1462.1,906.3L1464.4,906.3L1466.7,906.3L1468.9,906.3L1471.1,906.3L1473.3,906.3L1475.5,906.3L1477.7,906.2L1479.9,906.2L1482.0,906.2L1484.1,906.2L1486.2,906.2L1488.3,906.2L1490.3,906.2L1492.4,906.2L1494.4,906.2L1496.3,906.2L1498.3,906.2L1500.2,906.2L1502.1,906.1L1504.0,906.1L1505.8,906.1L1507.7,906.1L1509.4,906.1L1511.2,906.1L1512.9,906.1L1514.6,906.1L1516.3,906.1L1517.9,906.1L1519.5,906.1L1521.1,906.1L1522.6,906.1L1524.1,906.1L1525.5,906.0L1527.0,906.0L1528.3,906.0L1529.7,906.0L1531.0,906.0L1532.3,906.0L1533.5,906.0L1534.7,906.0L1535.8,906.0L1536.9,906.0L1538.0,906.0L1539.0,906.0" stroke="#ff8700" stroke-width="8.6"/>
<path class="c" d="M263.5,82.8L264.6,82.9L265.8,83.0L267.3,83.2L268.9,83.4L270.7,83.5L272.6,83.7L274.5,83.9L276.6,84.2L278.8,84.4L281.0,84.6L283.2,84.8L285.5,85.1L287.7,85.3L289.9,85.5L292.1,85.7L294.2,85.9L296.2,86.1L298.2,86.3L300.0,86.5L302.0,86.7L304.0,86.8L305.9,87.0L307.7,87.1L309.6,87.3L311.5,87.5L313.4,87.6L315.2,87.8L317.1,87.9L319.0,88.1L320.8,88.2L322.7,88.4L324.6,88.5L326.4,88.7L328.3,88.9L330.2,89.1L332.1,89.2L334.1,89.4L336.0,89.6L337.9,89.8L339.8,90.0L341.8,90.2L343.7,90.4L345.6,90.7L347.6,90.9L349.6,91.2L351.5,91.5L353.4,91.8L355.4,92.1L357.3,92.4L359.3,92.8L361.2,93.2L363.1,93.6L365.1,94.0L367.0,94.5L368.9,95.0L370.8,95.5L372.7,96.0L374.6,96.5L376.5,97.1L378.4,97.7L380.3,98.2L382.2,98.8L384.1,99.4L385.9,100.0L387.8,100.5L389.7,101.1L391.6,101.7L393.4,102.3L395.3,102.9L397.1,103.5L399.0,104.0L400.8,104.6L402.7,105.2L404.5,105.8L406.4,106.3L408.2,106.9L410.1,107.5L411.9,108.0L413.7,108.6L415.6,109.1L417.4,109.7L419.2,110.2L421.0,110.8L422.8,111.3L424.6,111.9L426.4,112.4L428.2,113.0L430.0,113.5L431.8,114.1L433.6,114.6L435.3,115.2L437.1,115.7L438.9,116.2L440.6,116.7L442.4,117.3L444.2,117.8L446.0,118.3L447.8,118.8L449.6,119.3L451.5,119.8L453.3,120.2L455.2,120.7L457.0,121.2L458.9,121.7L460.8,122.2L462.6,122.6L464.6,123.1L466.4,123.6L468.3,124.0L470.2,124.5L472.1,125.0L474.0,125.4L475.9,125.9L477.7,126.3L479.6,126.8L481.4,127.2L483.3,127.6L485.1,128.0L487.0,128.4L488.8,128.7L490.7,129.1L492.5,129.4L494.4,129.7L496.2,129.9L498.1,130.2L499.9,130.4L501.8,130.7L503.7,130.9L505.6,131.1L507.5,131.2L509.4,131.4L511.3,131.5L513.2,131.7L515.1,131.8L517.0,131.9L519.0,132.0L520.9,132.1L522.9,132.2L524.9,132.3L526.9,132.4L528.9,132.5L530.9,132.6L533.0,132.7L535.0,132.8L537.1,133.0L539.1,133.1L541.2,133.2L543.3,133.4L545.3,133.5L547.4,133.7L549.5,133.9L551.5,134.1L553.5,134.3L555.6,134.5L557.6,134.8L559.6,135.0L561.7,135.2L563.7,135.5L565.8,135.7L567.8,136.0L569.8,136.2L571.9,136.4L573.9,136.7L575.9,136.9L578.0,137.1L580.0,137.3L582.0,137.6L584.0,137.8L586.0,138.0L588.0,138.2L590.0,138.4L592.0,138.6L594.0,138.8L596.0,139.1L598.0,139.3L600.0,139.5L602.0,139.8L604.0,140.0L606.0,140.3L608.0,140.5L610.1,140.8L612.1,141.0L614.1,141.3L616.1,141.5L618.1,141.8L620.1,142.1L622.1,142.3L624.0,142.6L625.9,142.9L627.8,143.2L629.7,143.5L631.5,143.8L633.3,144.1L635.1,144.5L636.8,144.9L638.4,145.3L640.5,146.0L642.5,146.8L644.3,147.6L646.0,148.5L647.7,149.4L649.2,150.3L650.8,151.4L652.2,152.5L653.7,153.7L655.1,154.9L656.6,156.1L658.1,157.3L659.6,158.5L661.2,159.8L662.7,161.0L664.2,162.2L665.7,163.5L667.2,164.6L668.7,165.8L670.2,167.0L671.6,168.2L673.0,169.5L674.3,170.8L675.6,172.1L676.9,173.5L678.0,174.9L679.1,176.3L680.2,177.8L681.1,179.4L682.1,181.0L683.1,182.6L684.1,184.2L685.0,185.9L685.9,187.6L686.8,189.3L687.6,191.0L688.5,192.7L689.3,194.4L690.1,196.1L690.9,197.8L691.7,199.5L692.4,201.2L693.1,202.9L693.8,204.7L694.4,206.5L695.1,208.3L695.7,210.1L696.3,212.0L696.9,213.8L697.6,215.7L698.2,217.6L698.8,219.5L699.3,221.4L699.9,223.4L700.5,225.3L701.0,227.2L701.6,229.2L702.2,231.1L702.7,232.9L703.3,234.8L703.8,236.6L704.4,238.4L704.9,240.2L705.5,241.9L706.0,243.6L706.5,245.2L707.1,246.8L707.7,248.4L708.2,250.1L708.8,251.7L709.3,253.3L709.9,254.9L710.4,256.6L711.0,258.2L711.5,260.0L712.0,261.7L712.6,263.5L713.1,265.3L713.6,267.2L714.1,269.0L714.7,270.9L715.2,272.8L715.7,274.7L716.2,276.7L716.7,278.6L717.2,280.5L717.8,282.5L718.3,284.4L718.8,286.3L719.3,288.2L719.9,290.1L720.4,292.1L720.9,294.0L721.4,295.9L722.0,297.7L722.5,299.5L723.1,301.7L723.7,303.7L724.3,305.6L724.9,307.5L725.4,309.3L725.9,311.1L726.5,312.9L727.0,314.7L727.5,316.6L728.0,318.6L728.5,320.7L728.8,322.4L729.2,324.2L729.5,326.1L729.8,328.0L730.1,329.9L730.4,331.9L730.7,333.8L731.0,335.8L731.3,337.8L731.6,339.7L731.9,341.7L732.2,343.6L732.6,345.4L732.9,347.2L733.3,349.2L733.7,351.3L734.1,353.3L734.5,355.3L734.9,357.2L735.3,359.1L735.8,361.1L736.2,362.9L736.7,364.8L737.1,366.6L737.7,368.4L738.2,370.2L738.8,372.1L739.5,374.0L740.2,375.9L740.9,377.7L741.6,379.5L742.4,381.2L743.1,382.9L743.9,384.7L744.7,386.3L745.4,388.0L746.2,389.6L747.0,391.3L747.8,393.0L748.6,394.6L749.3,396.1L750.1,397.7L750.9,399.2L751.8,400.7L752.8,402.3L753.8,403.9L755.0,405.5L756.1,406.9L757.2,408.4L758.4,409.8L759.7,411.3L761.0,412.8L762.4,414.4L763.8,415.9L765.2,417.4L766.6,418.9L768.1,420.3L769.5,421.8L770.9,423.2L772.3,424.6L773.8,426.0L775.3,427.4L776.9,428.8L778.4,430.2L780.0,431.5L781.5,432.9L783.0,434.2L784.5,435.5L785.9,436.7L787.3,437.9L788.6,439.1L790.1,440.5L791.5,441.8L792.7,443.0L793.9,444.2L795.0,445.3L796.3,446.5L797.6,447.7L799.2,449.1L801.0,450.6L802.2,451.6L803.5,452.7L804.9,453.8L806.3,455.0L807.8,456.2L809.3,457.4L810.8,458.7L812.4,459.9L814.0,461.2L815.7,462.4L817.3,463.7L819.0,464.9L820.7,466.1L822.3,467.2L824.0,468.3L825.6,469.3L827.1,470.2L828.8,471.2L830.4,472.1L832.0,473.0L833.7,473.9L835.4,474.8L837.0,475.7L838.7,476.5L840.4,477.4L842.1,478.2L843.8,479.1L845.5,479.9L847.2,480.7L848.8,481.6L850.5,482.4L852.3,483.3L854.0,484.1L855.8,485.0L857.6,485.9L859.3,486.7L861.1,487.6L862.9,488.4L864.6,489.2L866.4,490.1L868.2,490.9L869.9,491.7L871.7,492.5L873.5,493.2L875.2,494.0L877.0,494.8L878.8,495.6L880.6,496.3L882.4,497.1L884.2,497.8L886.1,498.5L887.9,499.3L889.8,500.0L891.6,500.7L893.4,501.4L895.2,502.1L896.9,502.8L898.6,503.4L900.3,504.1L901.9,504.8L903.5,505.4L905.5,506.3L907.5,507.1L909.3,507.9L911.0,508.7L912.7,509.5L914.4,510.3L916.1,511.1L917.8,511.8L919.5,512.6L921.2,513.4L923.0,514.2L924.7,514.9L926.4,515.6L928.1,516.3L929.7,517.0L931.4,517.6L933.2,518.3L934.9,519.0L936.7,519.7L938.5,520.5L940.3,521.3L942.2,522.2L944.2,523.1L945.8,523.9L947.4,524.7L949.1,525.5L950.9,526.5L952.7,527.4L954.6,528.4L956.5,529.4L958.3,530.4L960.2,531.4L962.0,532.3L963.7,533.3L965.3,534.2L966.8,535.0L968.1,535.8L969.9,536.8L971.5,537.7L972.9,538.6L974.3,539.5L975.5,540.6L976.6,541.8L977.3,543.1L977.7,544.5L978.2,546.1L978.7,547.7L979.3,549.2L980.1,550.5L981.2,551.8L982.6,552.8L984.2,553.7L986.0,554.4L987.9,555.2L989.8,556.0L991.6,556.8L993.4,557.6L995.3,558.5L997.0,559.4L998.5,560.5L1000.1,561.7L1001.5,562.9L1003.0,564.1L1004.3,565.3L1005.6,566.6L1006.8,567.8L1007.8,569.0L1009.1,570.7L1010.2,572.3L1011.0,574.0L1011.7,575.7L1012.4,577.5L1013.1,579.6L1013.6,581.1L1014.0,582.8L1014.4,584.5L1014.7,586.3L1015.1,588.1L1015.4,590.0L1015.8,591.9L1016.2,593.7L1016.7,595.5L1017.2,597.3L1017.6,599.1L1018.1,601.0L1018.5,602.9L1019.1,604.8L1019.6,606.6L1020.3,608.3L1021.1,610.0L1022.0,611.5L1023.1,612.9L1024.3,614.2L1025.6,615.4L1027.0,616.5L1028.4,617.6L1029.9,618.6L1031.4,619.7L1032.9,620.9L1034.3,622.1L1035.7,623.4L1037.1,624.7L1038.5,626.1L1039.8,627.5L1041.2,628.9L1042.6,630.3L1044.0,631.7L1045.4,633.0L1046.7,634.4L1048.0,635.7L1049.2,636.8L1050.5,638.0L1051.7,639.1L1052.9,640.2L1054.1,641.5L1055.5,642.8L1056.8,644.3L1058.3,646.0L1059.3,647.2L1060.4,648.5L1061.5,649.9L1062.6,651.4L1063.8,652.9L1065.0,654.4L1066.2,656.0L1067.4,657.6L1068.6,659.2L1069.8,660.9L1071.0,662.5L1072.1,664.1L1073.2,665.7L1074.2,667.2L1075.3,668.8L1076.3,670.4L1077.3,672.0L1078.3,673.6L1079.3,675.2L1080.3,676.8L1081.2,678.4L1082.1,680.0L1083.0,681.6L1083.9,683.3L1084.8,685.0L1085.7,686.6L1086.6,688.4L1087.4,690.1L1088.2,691.8L1089.0,693.5L1089.8,695.2L1090.6,697.0L1091.4,698.8L1092.1,700.6L1092.9,702.5L1093.6,704.3L1094.3,706.1L1095.1,707.9L1095.8,709.6L1096.5,711.4L1097.2,713.1L1097.9,714.9L1098.7,716.7L1099.3,718.5L1100.0,720.3L1100.7,722.0L1101.3,723.8L1102.0,725.5L1102.7,727.3L1103.3,729.0L1104.0,730.8L1104.7,732.5L1105.4,734.3L1106.1,736.1L1106.8,737.8L1107.5,739.4L1108.2,741.0L1109.0,742.7L1109.8,744.3L1110.5,746.0L1111.3,747.6L1112.1,749.3L1112.9,751.0L1113.7,752.7L1114.5,754.5L1115.3,756.3L1116.1,758.1L1116.9,760.0L1117.6,761.7L1118.3,763.4L1118.9,765.1L1119.6,766.9L1120.3,768.7L1121.0,770.5L1121.7,772.3L1122.4,774.2L1123.1,776.0L1123.8,778.0L1124.5,779.9L1125.2,781.9L1126.0,783.8L1126.7,785.9L1127.4,787.9L1128.2,790.0L1128.8,791.7L1129.4,793.5L1130.0,795.3L1130.6,797.1L1131.2,799.0L1131.8,800.9L1132.5,802.9L1133.1,804.8L1133.8,806.8L1134.4,808.7L1135.0,810.7L1135.7,812.6L1136.3,814.6L1137.0,816.5L1137.6,818.4L1138.2,820.2L1138.8,822.0L1139.4,823.8L1140.0,825.5L1140.6,827.2L1141.3,829.2L1142.0,831.2L1142.7,833.1L1143.4,835.0L1144.0,836.8L1144.7,838.6L1145.4,840.3L1146.0,842.1L1146.7,843.8L1147.3,845.5L1148.0,847.1L1148.6,848.8L1149.2,850.5L1149.9,852.1L1150.5,853.8L1151.2,855.4L1152.0,857.3L1152.7,859.2L1153.5,861.2L1154.3,863.1L1155.1,865.0L1155.8,866.9L1156.6,868.8L1157.4,870.6L1158.2,872.4L1158.9,874.1L1159.7,875.8L1160.4,877.3L1161.1,878.8L1161.8,880.2L1163.0,882.4L1164.1,884.3L1165.2,886.0L1166.3,887.6L1167.4,889.0L1168.4,890.2L1169.3,891.4L1170.2,892.6L1171.2,894.0L1172.2,895.3L1173.1,896.4L1174.4,897.4L1176.1,898.1L1178.3,898.8L1179.1,899.1L1179.1,899.3L1178.5,899.5L1177.8,899.6L1177.2,899.6L1177.4,899.7L1178.4,899.7L1180.9,899.7L1185.0,899.6L1191.3,899.6L1200.0,899.6L1201.1,899.6L1202.3,899.6L1203.5,899.6L1204.7,899.6L1206.0,899.6L1207.3,899.6L1208.7,899.6L1210.0,899.6L1211.5,899.6L1212.9,899.6L1214.4,899.6L1215.9,899.5L1217.5,899.5L1219.1,899.5L1220.7,899.5L1222.3,899.5L1224.0,899.5L1225.7,899.5L1227.5,899.5L1229.2,899.5L1231.0,899.5L1232.8,899.5L1234.7,899.5L1236.5,899.5L1238.4,899.5L1240.3,899.4L1242.3,899.4L1244.2,899.4L1246.2,899.4L1248.2,899.4L1250.2,899.4L1252.3,899.4L1254.3,899.4L1256.4,899.4L1258.5,899.3L1260.6,899.3L1262.8,899.3L1264.9,899.3L1267.0,899.3L1269.2,899.3L1271.4,899.3L1273.6,899.3L1275.8,899.2L1278.0,899.2L1280.3,899.2L1282.5,899.2L1284.7,899.2L1287.0,899.2L1289.3,899.2L1291.5,899.1L1293.8,899.1L1296.1,899.1L1298.4,899.1L1300.7,899.1L1303.0,899.1L1305.3,899.1L1307.5,899.0L1309.8,899.0L1312.2,899.0L1314.5,899.0L1316.8,899.0L1319.0,899.0L1321.3,899.0L1323.6,899.0L1325.9,898.9L1328.2,898.9L1330.5,898.9L1332.8,898.9L1335.0,898.9L1337.3,898.9L1339.5,898.9L1341.8,898.8L1344.0,898.8L1346.2,898.8L1348.5,898.8L1350.7,898.8L1352.8,898.8L1355.0,898.8L1357.2,898.8L1359.3,898.7L1361.5,898.7L1363.6,898.7L1365.7,898.7L1367.8,898.7L1369.9,898.7L1371.9,898.7L1373.9,898.6L1376.0,898.6L1377.9,898.6L1379.9,898.6L1381.9,898.6L1383.8,898.6L1385.7,898.6L1387.6,898.6L1389.4,898.6L1391.3,898.5L1393.1,898.5L1394.8,898.5L1396.6,898.5L1398.3,898.5L1400.0,898.5L1402.4,898.5L1404.8,898.5L1407.3,898.5L1409.7,898.5L1412.1,898.4L1414.6,898.4L1417.0,898.4L1419.4,898.4L1421.8,898.4L1424.3,898.4L1426.7,898.4L1429.1,898.4L1431.5,898.3L1433.9,898.3L1436.3,898.3L1438.7,898.3L1441.1,898.3L1443.5,898.3L1445.8,898.3L1448.2,898.2L1450.6,898.2L1452.9,898.2L1455.2,898.2L1457.5,898.2L1459.8,898.2L1462.1,898.2L1464.4,898.2L1466.7,898.2L1468.9,898.1L1471.1,898.1L1473.3,898.1L1475.5,898.1L1477.7,898.1L1479.9,898.1L1482.0,898.1L1484.1,898.1L1486.2,898.1L1488.3,898.0L1490.3,898.0L1492.4,898.0L1494.4,898.0L1496.3,898.0L1498.3,898.0L1500.2,898.0L1502.1,898.0L1504.0,898.0L1505.8,898.0L1507.7,898.0L1509.4,898.0L1511.2,897.9L1512.9,897.9L1514.6,897.9L1516.3,897.9L1517.9,897.9L1519.5,897.9L1521.1,897.9L1522.6,897.9L1524.1,897.9L1525.5,897.9L1527.0,897.9L1528.3,897.9L1529.7,897.9L1531.0,897.8L1532.3,897.8L1533.5,897.8L1534.7,897.8L1535.8,897.8L1536.9,897.8L1538.0,897.8L1539.0,897.8" stroke="#008800" stroke-width="8.6"/>
<path class="c" d="M1182,899.2L1230,898.0L1300,897.2L1400,896.9L1539,896.7" stroke="#008800" stroke-width="8.6"/>
<path class="c" d="M1182,899.2L1230,899.3L1300,899.3L1400,899.0L1539,898.8" stroke="#008800" stroke-width="8.6"/>
<path class="c" d="M263.5,82.8L264.6,83.0L265.9,83.1L267.4,83.3L269.1,83.6L270.9,83.8L272.9,84.1L274.9,84.4L277.1,84.7L279.3,85.0L281.6,85.3L283.9,85.7L286.1,86.0L288.4,86.3L290.6,86.6L292.7,86.9L294.7,87.2L296.6,87.5L298.4,87.8L300.0,88.0L302.3,88.4L304.3,88.7L306.2,89.0L308.0,89.3L309.9,89.6L311.7,89.9L313.5,90.2L315.3,90.5L317.2,90.9L319.0,91.2L320.8,91.5L322.7,91.8L324.5,92.2L326.3,92.5L328.2,92.8L330.0,93.2L331.9,93.6L333.8,94.0L335.7,94.3L337.6,94.8L339.5,95.2L341.4,95.6L343.3,96.1L345.2,96.5L347.2,97.0L349.1,97.5L351.1,98.0L353.0,98.5L354.9,99.0L356.9,99.6L358.8,100.1L360.7,100.7L362.6,101.2L364.5,101.7L366.3,102.3L368.2,102.8L370.0,103.4L371.8,103.9L373.6,104.4L375.4,105.0L377.2,105.5L379.0,106.0L380.7,106.5L382.5,107.0L384.2,107.5L386.0,108.0L387.7,108.4L389.4,108.9L391.2,109.3L392.9,109.8L394.7,110.2L396.4,110.7L398.2,111.1L400.0,111.5L401.8,111.9L403.6,112.3L405.5,112.7L407.3,113.0L409.1,113.4L411.0,113.8L412.8,114.1L414.6,114.4L416.5,114.7L418.3,115.0L420.2,115.3L422.0,115.5L423.8,115.8L425.7,116.0L427.5,116.2L429.4,116.5L431.2,116.7L433.0,116.8L434.9,117.0L436.7,117.2L438.5,117.3L440.4,117.5L442.2,117.6L444.1,117.8L445.9,117.9L447.8,118.0L449.7,118.2L451.6,118.3L453.5,118.4L455.5,118.5L457.4,118.6L459.3,118.7L461.2,118.8L463.2,118.9L465.2,119.0L467.2,119.1L469.2,119.2L471.2,119.3L473.2,119.5L475.2,119.6L477.3,119.7L479.3,119.8L481.4,119.9L483.4,120.0L485.5,120.1L487.5,120.2L489.6,120.3L491.7,120.5L493.7,120.6L495.8,120.7L497.8,120.8L499.9,121.0L501.9,121.1L503.9,121.2L505.9,121.4L507.9,121.5L509.9,121.7L511.9,121.8L513.8,122.0L515.8,122.2L517.7,122.3L519.6,122.5L521.5,122.7L523.4,122.9L525.3,123.1L527.2,123.3L529.1,123.5L531.0,123.8L532.8,124.0L534.6,124.2L536.5,124.5L538.3,124.7L540.2,125.0L542.0,125.2L543.9,125.5L545.7,125.7L547.5,126.0L549.4,126.3L551.2,126.6L553.0,126.9L554.9,127.2L556.7,127.4L558.6,127.7L560.4,128.0L562.3,128.3L564.2,128.6L566.1,128.9L568.0,129.2L570.0,129.6L571.9,129.9L573.8,130.2L575.8,130.5L577.8,130.8L579.8,131.1L581.8,131.4L583.8,131.6L585.8,131.9L587.8,132.2L589.8,132.4L591.8,132.7L593.8,132.9L595.9,133.2L597.9,133.4L599.9,133.6L601.8,133.8L603.8,134.0L605.8,134.2L607.7,134.3L609.6,134.5L611.5,134.7L613.5,134.8L615.4,134.9L617.3,135.0L619.2,135.2L621.1,135.3L623.0,135.4L624.9,135.4L626.8,135.5L628.7,135.6L630.6,135.7L632.6,135.8L634.5,135.8L636.5,135.9L638.4,136.0L640.4,136.1L642.4,136.1L644.4,136.2L646.4,136.2L648.5,136.3L650.5,136.3L652.5,136.4L654.6,136.4L656.6,136.5L658.7,136.6L660.7,136.6L662.7,136.6L664.8,136.7L666.8,136.7L668.9,136.8L670.9,136.8L672.9,136.8L674.9,136.9L676.9,136.9L678.9,136.9L680.9,137.0L682.9,137.0L684.8,137.0L686.8,137.0L688.8,137.1L690.8,137.1L692.8,137.1L694.7,137.1L696.7,137.1L698.7,137.1L700.7,137.1L702.7,137.2L704.7,137.2L706.7,137.2L708.8,137.2L710.8,137.2L712.8,137.2L714.9,137.2L716.9,137.2L718.9,137.2L721.0,137.2L723.0,137.2L725.0,137.2L727.0,137.2L729.1,137.3L731.1,137.3L733.1,137.3L735.1,137.3L737.1,137.3L739.1,137.4L741.1,137.4L743.0,137.4L745.0,137.4L747.0,137.5L749.0,137.5L751.0,137.6L752.9,137.6L754.9,137.7L756.9,137.7L758.9,137.8L760.8,137.9L762.8,137.9L764.8,138.0L766.8,138.1L768.8,138.2L770.8,138.3L772.8,138.4L774.8,138.5L776.8,138.6L778.8,138.7L780.8,138.8L782.8,138.9L784.8,139.1L786.8,139.2L788.8,139.3L790.8,139.5L792.7,139.6L794.7,139.8L796.6,139.9L798.6,140.0L800.5,140.2L802.4,140.3L804.4,140.5L806.3,140.7L808.2,140.8L810.1,141.0L812.0,141.2L813.9,141.3L815.8,141.5L817.8,141.7L819.7,141.9L821.6,142.1L823.5,142.2L825.5,142.4L827.5,142.6L829.4,142.8L831.4,143.0L833.4,143.2L835.4,143.4L837.4,143.7L839.5,143.9L841.5,144.1L843.6,144.3L845.7,144.6L847.8,144.8L849.8,145.1L851.9,145.3L854.0,145.6L856.1,145.8L858.2,146.1L860.3,146.3L862.4,146.6L864.5,146.9L866.6,147.1L868.6,147.4L870.6,147.7L872.7,147.9L874.7,148.2L876.6,148.4L878.6,148.7L880.6,149.0L882.5,149.2L884.5,149.5L886.4,149.8L888.3,150.0L890.1,150.3L892.0,150.6L893.8,150.8L895.6,151.1L897.5,151.3L899.3,151.6L901.1,151.9L902.9,152.1L904.7,152.4L906.5,152.7L908.2,152.9L910.0,153.2L911.8,153.5L913.5,153.7L915.3,154.0L917.0,154.2L918.8,154.5L920.5,154.8L922.3,155.0L924.1,155.2L925.9,155.5L927.8,155.7L929.6,155.9L931.4,156.2L933.3,156.4L935.1,156.6L937.0,156.8L938.9,157.1L940.8,157.3L942.8,157.5L944.7,157.7L946.7,157.9L948.7,158.1L950.7,158.3L952.8,158.5L954.8,158.7L956.8,158.9L958.8,159.1L960.9,159.3L962.9,159.5L965.0,159.7L967.0,159.9L969.1,160.2L971.1,160.4L973.1,160.6L975.2,160.8L977.2,161.1L979.2,161.3L981.2,161.5L983.2,161.8L985.2,162.0L987.2,162.2L989.2,162.5L991.2,162.8L993.2,163.0L995.2,163.3L997.1,163.6L999.1,163.9L1001.0,164.2L1003.0,164.5L1004.9,164.8L1006.8,165.1L1008.7,165.3L1010.6,165.7L1012.5,165.9L1014.4,166.3L1016.3,166.6L1018.2,166.9L1020.1,167.2L1022.0,167.5L1024.0,167.8L1025.9,168.1L1027.8,168.3L1029.7,168.6L1031.6,168.9L1033.5,169.2L1035.5,169.5L1037.4,169.8L1039.4,170.1L1041.3,170.3L1043.3,170.6L1045.2,170.9L1047.2,171.2L1049.1,171.4L1051.1,171.7L1053.0,171.9L1055.0,172.2L1056.9,172.5L1058.8,172.7L1060.7,173.0L1062.6,173.2L1064.5,173.5L1066.4,173.7L1068.2,173.9L1070.1,174.2L1072.0,174.4L1073.8,174.6L1075.7,174.8L1077.5,175.1L1079.3,175.3L1081.2,175.5L1083.0,175.6L1084.8,175.8L1086.6,176.0L1088.4,176.2L1090.2,176.3L1092.0,176.5L1093.8,176.6L1095.6,176.7L1097.4,176.9L1099.3,177.0L1101.1,177.1L1102.9,177.2L1104.8,177.3L1106.6,177.3L1108.5,177.4L1110.4,177.5L1112.3,177.6L1114.2,177.6L1116.1,177.7L1118.1,177.7L1120.0,177.8L1122.0,177.8L1123.9,177.9L1125.9,177.9L1127.9,178.0L1129.9,178.0L1131.9,178.0L1133.9,178.1L1135.8,178.1L1137.8,178.1L1139.8,178.2L1141.8,178.2L1143.7,178.2L1145.7,178.2L1147.7,178.2L1149.7,178.3L1151.7,178.3L1153.7,178.3L1155.7,178.3L1157.7,178.3L1159.7,178.4L1161.7,178.4L1163.8,178.4L1165.8,178.4L1167.8,178.4L1169.9,178.5L1172.0,178.5L1174.0,178.5L1176.1,178.6L1178.1,178.6L1180.2,178.6L1182.3,178.7L1184.3,178.7L1186.4,178.7L1188.5,178.8L1190.5,178.8L1192.5,178.9L1194.6,178.9L1196.6,179.0L1198.7,179.0L1200.7,179.1L1202.7,179.2L1204.8,179.2L1206.8,179.3L1208.8,179.4L1210.9,179.5L1212.9,179.6L1214.9,179.7L1217.0,179.8L1219.0,179.9L1221.0,180.0L1223.0,180.1L1225.0,180.2L1227.0,180.3L1229.0,180.4L1231.0,180.5L1232.9,180.6L1234.9,180.7L1236.8,180.8L1238.8,181.0L1240.7,181.1L1242.6,181.2L1244.5,181.4L1246.5,181.5L1248.4,181.6L1250.3,181.8L1252.2,181.9L1254.1,182.1L1256.0,182.2L1258.0,182.4L1259.9,182.6L1261.8,182.7L1263.8,182.9L1265.7,183.1L1267.7,183.3L1269.6,183.5L1271.6,183.7L1273.5,183.9L1275.4,184.1L1277.4,184.3L1279.3,184.6L1281.2,184.8L1283.2,185.0L1285.1,185.3L1287.0,185.5L1289.0,185.8L1290.9,186.1L1292.8,186.3L1294.7,186.6L1296.7,186.9L1298.6,187.2L1300.5,187.5L1302.4,187.9L1304.4,188.2L1306.3,188.5L1308.2,188.9L1310.2,189.2L1312.1,189.6L1314.1,190.0L1316.0,190.4L1318.0,190.8L1319.9,191.2L1321.9,191.6L1323.8,192.1L1325.8,192.5L1327.7,193.0L1329.6,193.5L1331.5,194.0L1333.4,194.5L1335.3,195.0L1337.2,195.6L1339.1,196.2L1341.0,196.8L1342.8,197.3L1344.7,198.0L1346.5,198.6L1348.4,199.3L1350.2,199.9L1352.1,200.6L1353.9,201.3L1355.7,202.1L1357.5,202.8L1359.3,203.6L1361.2,204.3L1363.0,205.1L1364.8,205.9L1366.6,206.7L1368.4,207.6L1370.2,208.4L1372.1,209.3L1373.9,210.1L1375.7,211.0L1377.6,211.9L1379.4,212.8L1381.5,213.8L1383.4,214.8L1385.3,215.7L1387.2,216.7L1389.2,217.7L1391.2,218.7L1393.3,219.7L1395.7,221.0L1400.0,223.2L1408.7,227.8L1414.0,231.5L1419.0,235.8L1423.5,240.0L1426.5,242.0L1430.0,242.6L1440.0,242.7L1459.1,242.7L1500.0,242.6L1539.0,242.5" stroke="#0089a8" stroke-width="8.6"/>
<path class="c" d="M263.5,82.6L264.6,82.5L266.4,82.3L268.3,82.2L270.2,82.1L272.1,82.0L273.9,81.9L275.8,81.8L277.7,81.7L279.6,81.7L281.6,81.6L283.5,81.5L285.4,81.5L287.3,81.5L289.2,81.4L291.2,81.3L293.1,81.3L295.0,81.2L297.0,81.2L298.9,81.2L300.8,81.1L302.8,81.1L304.7,81.1L306.7,81.1L308.7,81.0L310.6,81.0L312.6,81.0L314.6,81.0L316.5,81.0L318.5,81.0L320.5,80.9L322.5,80.9L324.5,80.9L326.4,80.9L328.4,80.9L330.4,80.9L332.4,80.9L334.4,80.9L336.4,80.9L338.4,80.9L340.4,80.9L342.4,80.9L344.4,80.8L346.4,80.8L348.4,80.8L350.4,80.8L352.4,80.8L354.4,80.8L356.4,80.8L358.4,80.8L360.4,80.8L362.3,80.7L364.3,80.7L366.3,80.7L368.2,80.7L370.2,80.7L372.2,80.7L374.1,80.6L376.1,80.6L378.0,80.6L380.0,80.6L381.9,80.6L383.9,80.5L385.8,80.5L387.8,80.5L389.7,80.5L391.7,80.5L393.6,80.4L395.6,80.4L397.5,80.4L399.5,80.4L401.4,80.3L403.4,80.3L405.4,80.3L407.3,80.3L409.3,80.2L411.3,80.2L413.2,80.2L415.2,80.2L417.2,80.2L419.1,80.1L421.1,80.1L423.1,80.1L425.1,80.0L427.0,80.0L429.0,80.0L430.9,79.9L432.9,79.9L434.9,79.9L436.8,79.8L438.8,79.8L440.7,79.7L442.7,79.7L444.6,79.7L446.5,79.6L448.4,79.5L450.4,79.5L452.3,79.4L454.2,79.4L456.1,79.3L458.0,79.3L459.9,79.2L461.8,79.2L463.7,79.1L465.6,79.1L467.5,79.0L469.4,79.0L471.3,78.9L473.2,78.8L475.1,78.8L477.0,78.7L478.9,78.7L480.9,78.7L482.8,78.6L484.7,78.6L486.6,78.5L488.6,78.5L490.6,78.5L492.5,78.4L494.5,78.4L496.5,78.4L498.4,78.4L500.4,78.3L502.4,78.3L504.4,78.3L506.5,78.3L508.5,78.3L510.5,78.3L512.5,78.3L514.6,78.3L516.6,78.3L518.7,78.3L520.7,78.4L522.8,78.4L524.8,78.4L526.9,78.4L529.0,78.5L531.0,78.5L533.0,78.5L535.1,78.6L537.1,78.6L539.2,78.7L541.2,78.7L543.3,78.8L545.3,78.8L547.3,78.9L549.3,79.0L551.3,79.0L553.3,79.1L555.3,79.2L557.3,79.3L559.3,79.3L561.2,79.4L563.2,79.5L565.2,79.6L567.1,79.7L569.0,79.8L571.0,79.9L572.9,80.1L574.8,80.2L576.0,80.3L577.7,80.4L579.6,80.5L581.8,80.7L584.0,80.9L586.2,81.0L588.2,81.2L590.0,81.3L592.0,81.4L593.7,81.5L595.3,81.6L596.9,81.7L598.4,81.8L600.0,81.9L601.7,82.0L603.5,82.1L605.2,82.2L606.9,82.3L608.5,82.5L610.0,82.6L611.9,82.8L613.6,83.0L615.1,83.2L616.5,83.6L618.1,84.2L619.4,85.0L621.0,86.2L622.2,87.2L623.6,88.3L625.0,89.6L626.5,91.0L628.0,92.3L629.3,93.5L630.7,94.8L632.0,96.1L633.3,97.5L634.6,98.9L635.8,100.3L637.0,101.8L638.3,103.2L639.5,104.7L640.7,106.2L641.8,107.8L642.9,109.3L644.0,110.9L645.1,112.5L646.1,114.1L647.1,115.7L648.1,117.3L649.0,119.0L649.9,120.6L650.8,122.3L651.7,124.0L652.5,125.7L653.4,127.4L654.1,129.1L654.9,130.8L655.7,132.5L656.4,134.2L657.2,136.0L657.9,137.7L658.6,139.5L659.2,141.2L659.9,143.0L660.6,144.8L661.2,146.6L661.9,148.3L662.5,150.1L663.1,151.9L663.7,153.7L664.3,155.6L664.9,157.4L665.4,159.2L666.0,161.0L666.5,162.8L667.1,164.7L667.6,166.5L668.0,168.4L668.5,170.3L669.0,172.3L669.4,174.2L669.9,176.2L670.3,178.2L670.8,180.2L671.2,182.0L671.7,183.8L672.1,185.6L672.5,187.4L673.0,189.3L673.4,191.2L673.9,193.1L674.3,195.0L674.7,196.9L675.2,198.8L675.6,200.7L676.0,202.6L676.5,204.5L676.9,206.4L677.4,208.3L677.8,210.2L678.2,212.1L678.7,213.9L679.1,215.8L679.6,217.7L680.1,219.6L680.5,221.4L681.0,223.3L681.5,225.2L681.9,227.1L682.4,228.9L682.8,230.8L683.2,232.7L683.7,234.6L684.1,236.5L684.5,238.4L684.9,240.3L685.3,242.2L685.6,244.1L686.0,246.1L686.4,248.0L686.7,250.0L687.1,251.9L687.4,253.9L687.7,255.9L688.0,257.8L688.4,259.8L688.7,261.7L689.0,263.6L689.3,265.6L689.6,267.5L689.9,269.3L690.2,271.2L690.5,273.2L690.8,275.1L691.1,277.0L691.4,278.9L691.7,280.8L692.0,282.6L692.3,284.5L692.7,286.3L693.0,288.2L693.4,290.0L693.7,291.9L694.1,293.8L694.4,295.7L694.8,297.6L695.1,299.5L695.5,301.3L695.8,303.2L696.1,305.0L696.5,306.9L696.8,308.8L697.1,310.6L697.5,312.5L697.8,314.4L698.1,316.3L698.5,318.2L698.8,320.1L699.1,321.9L699.4,323.8L699.6,325.7L699.9,327.6L700.2,329.5L700.5,331.4L700.8,333.2L701.0,335.1L701.3,337.0L701.6,338.8L701.9,340.7L702.2,342.6L702.5,344.4L702.7,346.3L703.0,348.2L703.3,350.1L703.6,351.9L703.9,353.9L704.1,355.8L704.4,357.7L704.7,359.6L705.0,361.4L705.2,363.3L705.5,365.1L705.7,367.0L706.0,368.9L706.3,370.8L706.5,372.7L706.8,374.6L707.0,376.4L707.3,378.3L707.5,380.2L707.8,382.1L708.1,384.0L708.3,385.9L708.6,387.7L708.8,389.6L709.1,391.4L709.4,393.3L709.6,395.2L709.9,397.1L710.2,398.9L710.5,400.7L710.8,402.5L711.0,404.3L711.3,406.2L711.6,408.0L711.9,409.8L712.1,411.7L712.4,413.6L712.7,415.5L713.0,417.4L713.2,419.4L713.5,421.5L713.7,423.3L714.0,425.2L714.2,427.1L714.4,429.1L714.7,431.1L714.9,433.2L715.2,435.3L715.4,437.4L715.6,439.5L715.9,441.6L716.1,443.6L716.3,445.7L716.6,447.7L716.8,449.6L717.0,451.5L717.2,453.2L717.5,454.9L717.7,456.5L717.9,458.0L718.3,460.6L718.7,462.6L719.0,464.2L719.4,465.6L719.7,466.9L720.1,468.3L720.5,470.1L721.0,472.4L721.5,475.4L721.7,476.8L722.0,478.3L722.2,479.9L722.5,481.6L722.8,483.4L723.1,485.2L723.4,487.1L723.7,489.1L724.0,491.1L724.4,493.2L724.7,495.3L725.0,497.4L725.3,499.5L725.7,501.6L726.0,503.8L726.3,505.9L726.6,507.9L727.0,510.0L727.3,512.0L727.6,514.0L727.9,515.9L728.2,517.7L728.5,519.5L728.9,521.7L729.2,523.8L729.6,525.8L729.9,527.9L730.3,529.8L730.6,531.8L730.9,533.7L731.3,535.5L731.6,537.4L731.9,539.3L732.3,541.2L732.6,543.0L732.9,544.9L733.3,546.9L733.6,548.8L734.0,550.8L734.3,552.8L734.7,554.9L735.0,556.7L735.3,558.6L735.7,560.5L736.0,562.4L736.4,564.4L736.7,566.4L737.0,568.4L737.4,570.4L737.7,572.4L738.1,574.4L738.4,576.4L738.8,578.4L739.1,580.4L739.5,582.4L739.8,584.3L740.1,586.3L740.5,588.2L740.8,590.1L741.2,591.9L741.5,593.7L741.8,595.5L742.2,597.6L742.6,599.7L742.9,601.8L743.3,603.8L743.6,605.8L744.0,607.7L744.3,609.7L744.7,611.6L745.0,613.4L745.4,615.3L745.7,617.1L746.1,619.0L746.4,620.8L746.8,622.6L747.2,624.4L747.6,626.2L748.0,628.0L748.5,630.0L749.0,632.0L749.5,633.9L750.0,635.9L750.5,637.7L751.1,639.6L751.6,641.5L752.2,643.3L752.7,645.2L753.3,647.0L753.8,648.9L754.4,650.8L755.0,652.6L755.5,654.6L756.1,656.5L756.6,658.3L757.2,660.2L757.7,662.1L758.2,664.0L758.8,665.9L759.4,667.8L759.9,669.8L760.5,671.7L761.0,673.6L761.6,675.5L762.1,677.4L762.7,679.3L763.2,681.2L763.8,683.0L764.4,684.8L764.9,686.6L765.5,688.6L766.2,690.6L766.8,692.7L767.4,694.7L768.0,696.7L768.7,698.7L769.3,700.6L769.9,702.5L770.5,704.4L771.2,706.3L771.8,708.1L772.4,709.8L773.1,711.5L773.7,713.1L774.6,715.2L775.4,717.1L776.3,718.9L777.1,720.6L777.9,722.2L778.8,723.8L779.7,725.4L780.6,727.1L781.6,728.9L782.6,730.8L783.4,732.4L784.3,734.0L785.2,735.8L786.2,737.5L787.2,739.3L788.1,741.1L789.1,743.0L790.1,744.8L791.1,746.6L792.1,748.4L793.1,750.2L794.0,752.0L794.9,753.7L795.8,755.5L796.7,757.3L797.6,759.1L798.5,760.8L799.4,762.6L800.2,764.3L801.0,766.0L801.9,767.8L802.8,769.5L803.6,771.3L804.6,773.1L805.5,774.9L806.3,776.5L807.2,778.1L808.0,779.8L808.9,781.5L809.8,783.2L810.7,784.9L811.6,786.6L812.5,788.3L813.4,790.0L814.3,791.7L815.2,793.3L816.1,794.9L817.0,796.4L817.9,797.9L819.0,799.7L820.1,801.5L821.2,803.2L822.3,804.9L823.4,806.5L824.5,808.1L825.7,809.6L826.8,811.2L827.9,812.7L829.1,814.1L830.3,815.6L831.7,817.2L833.1,818.8L834.6,820.3L836.1,821.9L837.6,823.4L839.1,824.8L840.5,826.2L841.9,827.4L843.2,828.6L844.4,829.7L846.0,831.2L847.2,832.4L848.3,833.3L849.4,834.1L850.9,835.0L853.0,836.0L854.3,836.6L855.8,837.2L857.3,837.8L859.0,838.4L860.8,839.0L862.6,839.6L864.5,840.2L866.4,840.8L868.4,841.4L870.3,842.0L872.3,842.6L874.2,843.1L876.0,843.6L877.8,844.1L879.7,844.5L881.6,845.0L883.5,845.5L885.4,845.9L887.4,846.4L889.3,846.8L891.3,847.1L893.2,847.5L895.1,847.8L897.1,848.1L899.0,848.4L900.9,848.6L902.9,848.7L904.9,848.8L906.8,848.8L908.8,848.8L910.8,848.8L912.8,848.7L914.7,848.7L916.6,848.7L918.5,848.8L920.3,848.9L922.0,849.0L923.7,849.3L925.7,849.7L927.5,850.3L929.2,850.9L930.9,851.5L932.4,852.2L934.0,853.0L935.7,853.8L937.4,854.6L939.3,855.5L941.4,856.3L942.9,856.9L944.6,857.5L946.3,858.1L948.1,858.7L949.9,859.4L951.8,860.1L953.7,860.8L955.6,861.4L957.5,862.1L959.4,862.8L961.2,863.5L963.0,864.2L964.7,864.8L966.4,865.5L967.9,866.1L970.0,867.0L972.0,868.0L973.8,868.9L975.5,869.8L977.2,870.7L978.8,871.5L980.4,872.4L982.1,873.3L983.8,874.1L985.6,874.9L987.3,875.6L989.1,876.2L990.9,876.8L992.7,877.4L994.5,878.0L996.3,878.5L998.1,879.1L999.9,879.7L1001.7,880.4L1003.4,881.2L1005.0,882.0L1006.6,882.9L1008.1,884.0L1009.5,885.1L1011.0,886.2L1012.4,887.4L1013.8,888.6L1015.1,889.9L1016.5,891.0L1018.0,892.2L1019.4,893.3L1020.9,894.3L1022.6,895.3L1024.2,896.3L1025.8,897.3L1027.4,898.2L1029.1,899.1L1030.8,900.0L1032.6,900.8L1034.5,901.6L1036.5,902.4L1038.6,903.2L1040.2,903.7L1041.9,904.2L1043.6,904.7L1045.5,905.2L1047.3,905.6L1049.2,906.1L1051.1,906.5L1053.0,906.9L1054.9,907.3L1056.8,907.7L1058.7,908.1L1060.7,908.5L1062.6,908.8L1064.5,909.1L1066.4,909.5L1068.3,909.8L1070.2,910.0L1072.0,910.3L1073.9,910.5L1075.8,910.8L1077.7,911.0L1079.6,911.2L1081.5,911.4L1083.5,911.6L1085.5,911.8L1087.5,912.0L1089.5,912.1L1091.5,912.3L1093.5,912.4L1095.6,912.5L1097.6,912.6L1099.6,912.8L1101.6,912.8L1103.6,912.9L1105.6,913.0L1107.5,913.0L1109.5,913.1L1111.4,913.1L1113.4,913.2L1115.4,913.2L1117.3,913.2L1119.3,913.3L1121.3,913.3L1123.3,913.3L1125.4,913.3L1127.4,913.3L1129.4,913.3L1131.5,913.3L1133.5,913.3L1135.6,913.3L1137.6,913.3L1139.6,913.3L1141.6,913.3L1143.6,913.3L1145.5,913.3L1147.4,913.3L1149.2,913.3L1151.0,913.3L1152.7,913.3L1154.3,913.3L1155.8,913.3L1157.3,913.3L1158.7,913.3L1160.0,913.3L1161.3,913.3L1162.5,913.3L1163.7,913.3L1164.9,913.3L1166.1,913.3L1167.4,913.3L1168.8,913.3L1170.4,913.3L1172.0,913.3L1173.9,913.3L1175.8,913.3L1178.1,913.3L1180.5,913.3L1183.3,913.3L1185.8,913.3L1188.7,913.3L1191.8,913.3L1195.5,913.3L1200.0,913.3L1201.2,913.3L1202.5,913.3L1203.8,913.3L1205.2,913.3L1206.5,913.3L1208.0,913.3L1209.4,913.3L1210.9,913.3L1212.4,913.3L1213.9,913.3L1215.5,913.3L1217.1,913.3L1218.7,913.3L1220.3,913.3L1222.0,913.3L1223.7,913.3L1225.5,913.3L1227.2,913.3L1229.0,913.3L1230.8,913.3L1232.6,913.3L1234.5,913.3L1236.3,913.3L1238.2,913.3L1240.2,913.3L1242.1,913.3L1244.0,913.3L1246.0,913.3L1248.0,913.3L1250.0,913.3L1252.1,913.3L1254.1,913.3L1256.2,913.3L1258.2,913.3L1260.3,913.3L1262.5,913.3L1264.6,913.3L1266.7,913.3L1268.8,913.3L1271.0,913.3L1273.2,913.3L1275.4,913.3L1277.5,913.3L1279.8,913.3L1282.0,913.3L1284.2,913.3L1286.4,913.3L1288.6,913.3L1290.9,913.3L1293.1,913.3L1295.3,913.3L1297.6,913.3L1299.8,913.3L1302.1,913.3L1304.4,913.3L1306.6,913.3L1308.9,913.3L1311.1,913.3L1313.4,913.3L1315.7,913.3L1317.9,913.3L1320.2,913.3L1322.4,913.3L1324.7,913.3L1326.9,913.3L1329.2,913.3L1331.4,913.3L1333.7,913.3L1335.9,913.3L1338.1,913.3L1340.3,913.3L1342.5,913.3L1344.7,913.3L1346.9,913.3L1349.1,913.3L1351.2,913.3L1353.4,913.3L1355.5,913.3L1357.7,913.3L1359.8,913.3L1361.9,913.3L1364.0,913.3L1366.0,913.3L1368.1,913.3L1370.1,913.3L1372.1,913.3L1374.1,913.3L1376.1,913.3L1378.1,913.3L1380.0,913.3L1382.0,913.3L1383.9,913.3L1385.8,913.3L1387.6,913.3L1389.5,913.3L1391.3,913.3L1393.1,913.3L1394.8,913.3L1396.6,913.3L1398.3,913.3L1400.0,913.3L1402.4,913.3L1404.8,913.3L1407.3,913.3L1409.7,913.3L1412.1,913.3L1414.6,913.3L1417.0,913.3L1419.4,913.3L1421.8,913.3L1424.3,913.3L1426.7,913.3L1429.1,913.3L1431.5,913.3L1433.9,913.3L1436.3,913.3L1438.7,913.3L1441.1,913.3L1443.5,913.3L1445.8,913.3L1448.2,913.3L1450.6,913.3L1452.9,913.3L1455.2,913.3L1457.5,913.3L1459.8,913.3L1462.1,913.3L1464.4,913.3L1466.7,913.3L1468.9,913.3L1471.1,913.3L1473.3,913.3L1475.5,913.3L1477.7,913.3L1479.9,913.3L1482.0,913.3L1484.1,913.3L1486.2,913.3L1488.3,913.3L1490.3,913.3L1492.4,913.3L1494.4,913.3L1496.3,913.3L1498.3,913.3L1500.2,913.3L1502.1,913.3L1504.0,913.3L1505.8,913.3L1507.7,913.3L1509.4,913.3L1511.2,913.3L1512.9,913.3L1514.6,913.3L1516.3,913.3L1517.9,913.3L1519.5,913.3L1521.1,913.3L1522.6,913.3L1524.1,913.3L1525.5,913.3L1527.0,913.3L1528.3,913.3L1529.7,913.3L1531.0,913.3L1532.3,913.3L1533.5,913.3L1534.7,913.3L1535.8,913.3L1536.9,913.3L1538.0,913.3L1539.0,913.3" stroke="#c80000" stroke-width="8.6"/>
<text class="tick" transform="translate(230.3,939.9) scale(0.919,1)" text-anchor="end">0</text>
<text class="tick" transform="translate(230.3,771.8) scale(0.919,1)" text-anchor="end">20</text>
<text class="tick" transform="translate(230.3,603.6) scale(0.919,1)" text-anchor="end">40</text>
<text class="tick" transform="translate(230.3,435.5) scale(0.919,1)" text-anchor="end">60</text>
<text class="tick" transform="translate(230.3,267.3) scale(0.919,1)" text-anchor="end">80</text>
<text class="tick" transform="translate(230.3,99.2) scale(0.919,1)" text-anchor="end">100</text>
<text class="tick" transform="translate(379.1,1012.3) scale(0.911,1)" text-anchor="middle">100</text>
<text class="tick" transform="translate(545.1,1012.3) scale(0.911,1)" text-anchor="middle">200</text>
<text class="tick" transform="translate(711.1,1012.3) scale(0.911,1)" text-anchor="middle">300</text>
<text class="tick" transform="translate(877.2,1012.3) scale(0.911,1)" text-anchor="middle">400</text>
<text class="tick" transform="translate(1043.2,1012.3) scale(0.911,1)" text-anchor="middle">500</text>
<text class="tick" transform="translate(1209.2,1012.3) scale(0.911,1)" text-anchor="middle">600</text>
<text class="tick" transform="translate(1375.2,1012.3) scale(0.911,1)" text-anchor="middle">700</text>
<text class="tick" transform="translate(1541.2,1012.3) scale(0.911,1)" text-anchor="middle">800</text>
<text class="title" transform="translate(895.6,1131.9) scale(0.944,1)" text-anchor="middle">Temperature (°C)</text>
<text class="title" transform="translate(69.6,520.1) rotate(-90) scale(0.978,1)" text-anchor="middle">% Mass</text>
<rect x="1735.6" y="305.8" width="90.3" height="8.2" fill="#c80000"/>
<text class="leg" style="font-size:73px" transform="translate(1882,333.3) scale(0.934,1)">Ethambutol</text>
<rect x="1735.6" y="411.1" width="90.3" height="8.2" fill="#0089a8"/>
<text class="leg" style="font-size:73px" transform="translate(1882,435.2) scale(0.934,1)">Palygorskite</text>
<rect x="1735.6" y="511.8" width="90.3" height="8.2" fill="#008800"/>
<text class="leg" style="font-size:73px" transform="translate(1882,537.5) scale(0.934,1)">Chitosan</text>
<rect x="1735.6" y="611.9" width="90.3" height="8.2" fill="#ff8700"/>
<text class="leg" style="font-size:75px" transform="translate(1882,638.9) scale(0.9014,1)">CE</text>
<rect x="1735.6" y="712.3" width="90.3" height="8.2" fill="#000000"/>
<text class="leg" style="font-size:75px" transform="translate(1882,741.3) scale(0.9014,1)">C2P1E</text>
<rect x="1735.6" y="813.5" width="90.3" height="8.2" fill="#0000cc"/>
<text class="leg" style="font-size:75px" transform="translate(1882,844.0) scale(0.9014,1)">C1P1E</text>
</svg></body></html>
